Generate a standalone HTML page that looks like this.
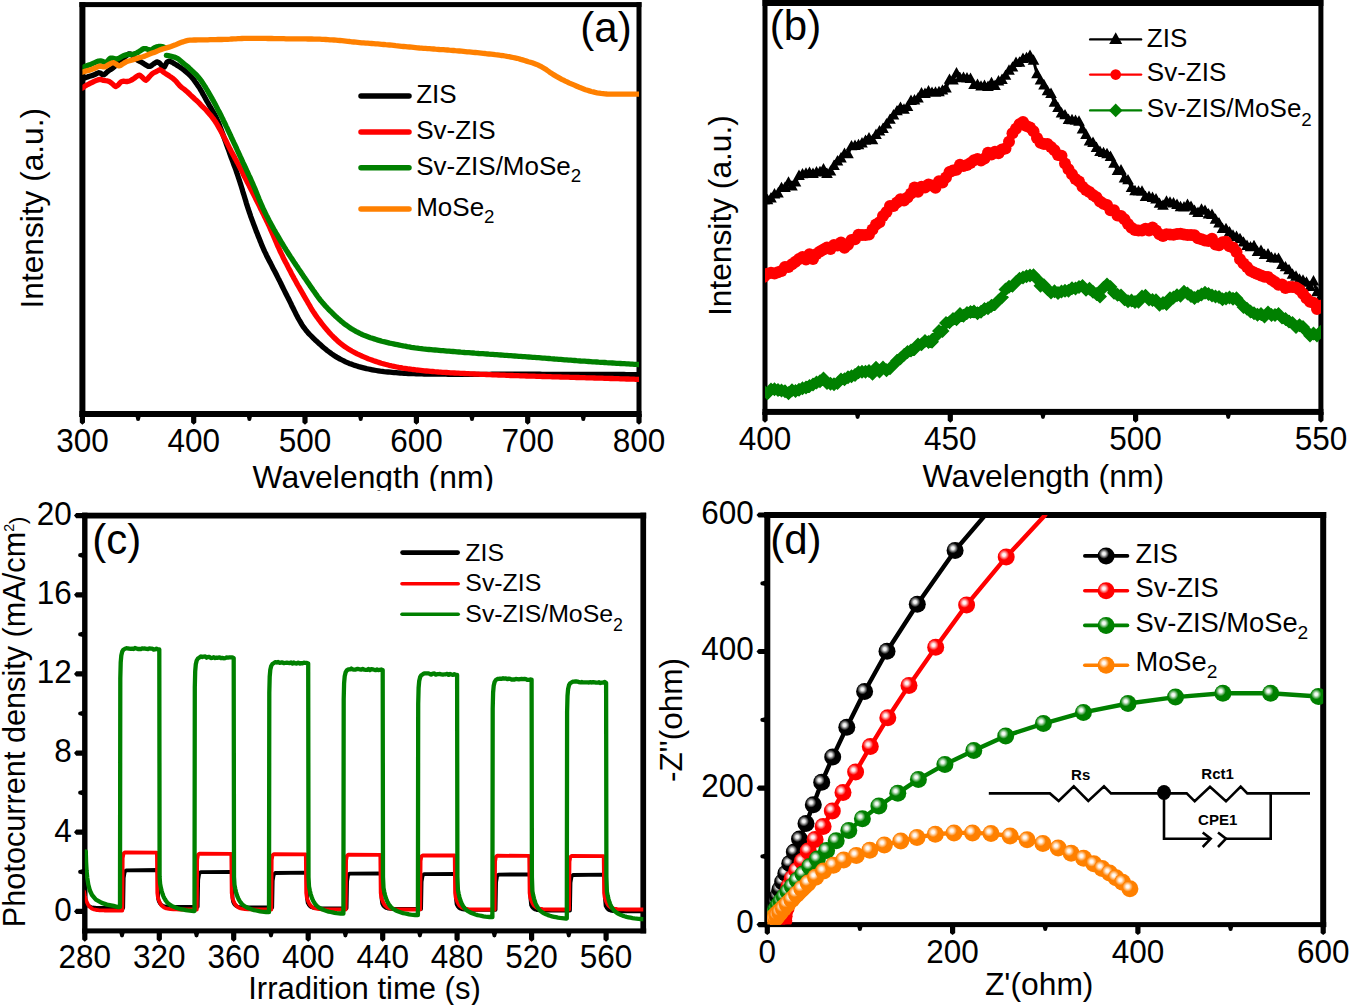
<!DOCTYPE html>
<html><head><meta charset="utf-8"><style>
html,body{margin:0;padding:0;background:#fff;overflow:hidden;}
svg{display:block;}
text{font-family:"Liberation Sans",sans-serif;fill:#000;}
</style></head><body>
<svg width="1350" height="1005" viewBox="0 0 1350 1005">
<defs><clipPath id="ca"><rect x="82.4" y="4.6" width="556.6" height="409.4"/></clipPath><clipPath id="cb"><rect x="765" y="3" width="555.9" height="408.9"/></clipPath><clipPath id="cc"><rect x="84.8" y="515.6" width="558.5" height="415.3"/></clipPath><clipPath id="cd"><rect x="767.3" y="515" width="555.9" height="409.6"/></clipPath><clipPath id="topclip"><rect x="0" y="0" width="1350" height="491"/></clipPath><clipPath id="topclipb"><rect x="0" y="0" width="1350" height="492"/></clipPath><radialGradient id="hk" cx="0.37" cy="0.37" r="0.3"><stop offset="0" stop-color="#fff" stop-opacity="1"/><stop offset="0.3" stop-color="#fff" stop-opacity="0.92"/><stop offset="1" stop-color="#fff" stop-opacity="0"/></radialGradient><radialGradient id="hr" cx="0.37" cy="0.37" r="0.3"><stop offset="0" stop-color="#fff" stop-opacity="1"/><stop offset="0.3" stop-color="#fff" stop-opacity="0.92"/><stop offset="1" stop-color="#fff" stop-opacity="0"/></radialGradient><radialGradient id="hg" cx="0.37" cy="0.37" r="0.3"><stop offset="0" stop-color="#fff" stop-opacity="1"/><stop offset="0.3" stop-color="#fff" stop-opacity="0.92"/><stop offset="1" stop-color="#fff" stop-opacity="0"/></radialGradient><radialGradient id="ho" cx="0.37" cy="0.37" r="0.3"><stop offset="0" stop-color="#fff" stop-opacity="1"/><stop offset="0.3" stop-color="#fff" stop-opacity="0.92"/><stop offset="1" stop-color="#fff" stop-opacity="0"/></radialGradient></defs>
<rect x="79.4" y="2.1" width="562.1" height="5"/>
<rect x="79.4" y="411" width="562.1" height="6"/>
<rect x="79.4" y="2.1" width="6" height="414.9"/>
<rect x="636.5" y="2.1" width="5" height="414.9"/>
<rect x="762.5" y="0" width="560.9" height="6"/>
<rect x="762.5" y="408.9" width="560.9" height="6"/>
<rect x="762.5" y="0" width="5" height="414.9"/>
<rect x="1318.4" y="0" width="5" height="414.9"/>
<rect x="82.1" y="512.7" width="564.1" height="5.8"/>
<rect x="82.1" y="928.4" width="564.1" height="5"/>
<rect x="82.1" y="512.7" width="5.4" height="420.7"/>
<rect x="640.4" y="512.7" width="5.7" height="420.7"/>
<rect x="764.3" y="512" width="561.9" height="6"/>
<rect x="764.3" y="922.1" width="561.9" height="5"/>
<rect x="764.3" y="512" width="6" height="415.1"/>
<rect x="1320.2" y="512" width="6" height="415.1"/>
<g clip-path="url(#ca)">
<polyline points="80,79 82,78.6 83.9,78.1 85.8,77.6 87.7,76.9 89.6,76.3 91.5,75.7 93.4,75.1 95.3,74.3 97,73.4 98.9,72.6 100.7,73.3 102.2,74.6 104.1,74.6 105.7,73.4 107.1,72 108.6,70.7 110.3,69.6 112,68.6 113.6,67.4 115.1,66 116.5,64.6 117.9,63.1 119.3,61.8 120.9,60.5 122.4,59.2 123.8,57.8 125.4,56.5 126.9,55.2 128.5,54 130.4,53.9 132,55.1 133.4,56.4 134.9,57.8 136.4,59.2 137.9,60.4 139.7,61.3 141.5,62.2 143.2,63.3 144.8,64.4 146.6,65.4 148.3,66.3 150.3,66.3 151.9,65.2 153.5,64 155.2,62.8 156.9,61.9 158.8,62.5 160.3,63.8 161.6,65.4 162.6,67 164.3,67.1 165.3,65.4 166.2,63.6 167.2,61.9 169,61.2 170.9,61.8 172.8,62.6 174.4,63.7 176.2,64.7 177.8,65.8 179.5,66.9 181.2,68 182.8,69.2 184.4,70.4 185.9,71.7 187.4,73 188.9,74.3 190.3,75.7 191.7,77.2 193,78.7 194.2,80.3 195.3,82 196.5,83.6 197.6,85.2 198.8,86.9 199.9,88.6 200.9,90.3 201.9,92 202.8,93.8 203.8,95.5 204.8,97.3 205.7,99 206.7,100.8 207.7,102.5 208.7,104.2 209.7,106 210.7,107.7 211.7,109.4 212.7,111.1 213.7,112.8 214.7,114.6 215.6,116.3 216.5,118.1 217.3,120 218.1,121.8 218.9,123.6 219.6,125.5 220.3,127.4 221,129.2 221.7,131.1 222.4,133 223.1,134.9 223.7,136.8 224.4,138.6 225.1,140.5 225.8,142.4 226.4,144.3 227.1,146.2 227.8,148.1 228.5,149.9 229.2,151.8 229.8,153.7 230.5,155.6 231.2,157.5 231.9,159.3 232.6,161.2 233.3,163.1 234,165 234.7,166.8 235.4,168.7 236.1,170.6 236.7,172.5 237.4,174.4 238,176.3 238.6,178.2 239.3,180.1 239.9,182 240.5,183.9 241.1,185.8 241.7,187.7 242.3,189.6 242.8,191.5 243.4,193.4 244,195.3 244.6,197.3 245.2,199.2 245.8,201.1 246.3,203 246.9,204.9 247.5,206.8 248.1,208.7 248.8,210.6 249.4,212.5 250.1,214.4 250.7,216.3 251.4,218.2 252.1,220.1 252.8,221.9 253.5,223.8 254.2,225.7 254.9,227.5 255.6,229.4 256.3,231.3 257.1,233.1 257.8,235 258.5,236.9 259.3,238.7 260,240.6 260.8,242.4 261.5,244.3 262.3,246.1 263.1,248 263.9,249.8 264.7,251.6 265.6,253.4 266.4,255.2 267.3,257 268.2,258.8 269.1,260.6 270.1,262.3 271,264.1 271.9,265.9 272.8,267.7 273.7,269.4 274.7,271.2 275.6,273 276.5,274.8 277.4,276.6 278.3,278.4 279.2,280.1 280.1,281.9 281,283.7 281.8,285.5 282.7,287.3 283.6,289.1 284.5,290.9 285.4,292.7 286.3,294.5 287.2,296.3 288.1,298 289,299.8 289.9,301.6 290.8,303.4 291.6,305.2 292.5,307 293.4,308.8 294.3,310.6 295.2,312.4 296.1,314.2 297,315.9 297.9,317.7 298.9,319.5 299.9,321.2 300.9,322.9 301.9,324.6 303,326.3 304.2,327.9 305.4,329.5 306.6,331.1 307.9,332.6 309.3,334.1 310.7,335.5 312.1,336.9 313.5,338.3 314.9,339.7 316.4,341.1 317.9,342.4 319.3,343.8 320.8,345.1 322.3,346.4 323.8,347.7 325.4,349 326.9,350.3 328.5,351.5 330.1,352.7 331.7,353.9 333.4,355 335,356.1 336.7,357.1 338.5,358.1 340.2,359.1 342,360 343.8,360.9 345.6,361.8 347.4,362.6 349.2,363.4 351.1,364.1 353,364.8 354.8,365.4 356.8,366 358.7,366.6 360.6,367.1 362.5,367.6 364.5,368.1 366.4,368.6 368.4,369 370.3,369.4 372.3,369.8 374.2,370.2 376.2,370.5 378.2,370.8 380.2,371.1 382.2,371.3 384.1,371.6 386.1,371.8 388.1,372 390.1,372.2 392.1,372.4 394.1,372.6 396.1,372.7 398.1,372.9 400.1,373 402.1,373.1 404.1,373.3 406.1,373.4 408.1,373.5 410.1,373.5 412.1,373.6 414.1,373.7 416.1,373.8 418.1,373.8 420.1,373.9 422.1,373.9 424.1,374 426.1,374 428.1,374 430,374.1 432,374.1 434,374.1 436,374.2 438,374.2 440,374.2 442,374.2 444,374.2 446,374.2 448,374.3 450,374.3 452,374.3 454,374.3 456,374.3 458,374.3 460,374.3 462,374.3 464,374.3 466,374.3 468,374.3 470,374.3 472,374.3 474,374.3 476,374.3 478,374.3 480,374.3 482,374.3 484,374.3 486,374.3 488,374.3 490,374.3 492,374.2 494,374.2 496,374.2 498,374.2 500,374.2 502,374.2 504,374.2 506,374.2 508,374.2 510,374.2 512,374.2 514,374.2 516,374.2 518,374.2 520,374.2 522,374.2 524,374.2 526,374.2 528,374.2 530,374.2 532,374.2 534,374.2 536,374.2 538,374.2 540,374.2 542,374.3 544,374.3 546,374.3 548,374.3 550,374.3 552,374.3 554,374.3 556,374.3 558,374.3 560,374.3 562,374.3 564,374.3 566,374.3 568,374.4 570,374.4 572,374.4 574,374.4 576,374.4 578,374.4 580,374.4 582,374.4 584,374.4 586,374.4 588,374.4 590,374.4 592,374.4 594,374.4 596,374.5 598,374.5 600,374.5 602,374.5 604,374.5 606,374.5 608,374.5 610,374.5 612,374.5 614,374.5 616,374.5 618,374.5 620,374.5 622,374.5 624,374.5 626,374.6 628,374.6 630,374.6 631.9,374.6 633.8,374.6 635.5,374.6 636.9,374.6 638,374.6 638,374.6" fill="none" stroke="#000" stroke-width="5.3" stroke-linejoin="round" stroke-linecap="round" />
<polyline points="80,88.8 81.9,88.3 83.6,87.2 85.2,86 86.9,85 88.7,84.1 90.5,83.2 92.3,82.3 94.1,81.4 95.9,80.6 97.8,79.9 99.7,79.4 101.7,79.7 103.6,80.4 105.6,80.7 107.5,80.9 109.4,81.6 111,82.7 112.6,84 114,85.4 115.6,86.5 117.4,85.7 118.8,84.3 120.1,82.8 121.6,81.5 123.6,81.2 125.6,81.5 127.6,81.5 129.5,81 131.3,80.1 133,79.1 134.7,78 136.2,76.7 137.9,75.6 139.7,75.2 141.3,76.4 142.8,77.8 144.2,79.2 145.8,80.2 147.4,79.1 148.7,77.5 150,76 151.4,74.6 152.9,73.3 154.7,72.3 156.5,71.5 158.2,70.5 160,69.7 161.8,70.7 163.3,72 164.9,73.1 166.6,74.2 168.3,75.3 169.9,76.4 171.6,77.5 173.2,78.7 174.7,80 176.1,81.4 177.4,83 178.7,84.5 180,86 181.5,87.3 183.1,88.5 184.7,89.7 186.2,91 187.7,92.3 189.2,93.7 190.6,95.1 192.1,96.5 193.5,97.8 195,99.2 196.5,100.5 198,101.9 199.4,103.3 200.7,104.8 202.1,106.2 203.6,107.6 205,109 206.4,110.4 207.7,111.9 209,113.4 210.3,114.9 211.6,116.5 212.8,118.1 214,119.7 215.1,121.3 216.2,123 217.2,124.7 218.2,126.4 219.2,128.2 220.2,129.9 221.2,131.7 222.1,133.4 223,135.2 224,137 224.9,138.7 225.8,140.5 226.7,142.3 227.6,144.1 228.5,145.9 229.4,147.7 230.3,149.4 231.2,151.2 232.2,153 233.1,154.7 234.1,156.5 235,158.3 236,160 236.9,161.8 237.9,163.5 238.8,165.3 239.7,167.1 240.7,168.9 241.6,170.6 242.5,172.4 243.3,174.2 244.2,176 245.1,177.8 246,179.6 246.9,181.4 247.8,183.1 248.8,184.9 249.7,186.7 250.6,188.5 251.5,190.3 252.4,192 253.3,193.8 254.2,195.6 255.1,197.4 256,199.2 256.9,201 257.8,202.8 258.7,204.6 259.6,206.4 260.4,208.2 261.3,209.9 262.2,211.7 263.1,213.5 264,215.3 264.8,217.1 265.7,218.9 266.6,220.7 267.5,222.5 268.3,224.3 269.2,226.1 270,228 270.8,229.8 271.6,231.6 272.4,233.4 273.2,235.3 274,237.1 274.8,239 275.6,240.8 276.4,242.6 277.1,244.5 277.9,246.3 278.8,248.1 279.6,250 280.4,251.8 281.3,253.6 282.2,255.4 283,257.2 283.9,259 284.8,260.7 285.7,262.5 286.7,264.3 287.6,266.1 288.5,267.9 289.4,269.6 290.4,271.4 291.3,273.2 292.2,274.9 293.2,276.7 294.1,278.5 295.1,280.2 296.1,282 297,283.7 298,285.5 299,287.2 300,288.9 301,290.7 302,292.4 303,294.1 304,295.9 305,297.6 306,299.3 307,301 308,302.8 309,304.5 310,306.2 311,308 312,309.7 313.1,311.4 314.2,313 315.3,314.7 316.4,316.4 317.6,318 318.8,319.6 320,321.2 321.2,322.8 322.4,324.4 323.6,325.9 324.9,327.5 326.2,329 327.5,330.6 328.8,332.1 330.1,333.5 331.5,335 332.9,336.4 334.3,337.8 335.8,339.2 337.2,340.6 338.7,341.9 340.3,343.2 341.8,344.4 343.4,345.6 345,346.8 346.7,347.9 348.4,349 350.1,350 351.8,351 353.6,352 355.3,352.9 357.1,353.8 358.9,354.6 360.7,355.5 362.5,356.3 364.4,357.1 366.2,357.9 368.1,358.7 369.9,359.4 371.8,360.1 373.7,360.8 375.6,361.4 377.5,362 379.4,362.6 381.3,363.2 383.2,363.7 385.1,364.3 387.1,364.8 389,365.3 391,365.7 392.9,366.2 394.9,366.6 396.8,367 398.8,367.4 400.8,367.7 402.7,368.1 404.7,368.4 406.7,368.7 408.7,369 410.6,369.2 412.6,369.5 414.6,369.7 416.6,370 418.6,370.2 420.6,370.4 422.6,370.6 424.5,370.8 426.5,371 428.5,371.2 430.5,371.4 432.5,371.5 434.5,371.7 436.5,371.8 438.5,372 440.5,372.1 442.5,372.3 444.5,372.4 446.5,372.5 448.5,372.6 450.5,372.8 452.5,372.9 454.5,373 456.5,373.1 458.5,373.2 460.5,373.3 462.5,373.4 464.5,373.5 466.4,373.6 468.4,373.7 470.4,373.8 472.4,373.9 474.4,374 476.4,374.1 478.4,374.2 480.4,374.3 482.4,374.4 484.4,374.4 486.4,374.5 488.4,374.6 490.4,374.7 492.4,374.8 494.4,374.9 496.4,374.9 498.4,375 500.4,375.1 502.4,375.2 504.4,375.2 506.4,375.3 508.4,375.4 510.4,375.5 512.4,375.5 514.4,375.6 516.4,375.7 518.4,375.7 520.4,375.8 522.4,375.9 524.4,375.9 526.4,376 528.4,376.1 530.4,376.1 532.4,376.2 534.4,376.2 536.4,376.3 538.4,376.4 540.4,376.4 542.4,376.5 544.4,376.5 546.4,376.6 548.4,376.7 550.4,376.7 552.4,376.8 554.4,376.8 556.4,376.9 558.4,376.9 560.4,377 562.4,377.1 564.4,377.1 566.4,377.2 568.4,377.2 570.4,377.3 572.4,377.3 574.4,377.4 576.4,377.5 578.4,377.5 580.4,377.6 582.4,377.6 584.4,377.7 586.4,377.8 588.4,377.8 590.4,377.9 592.4,377.9 594.4,378 596.4,378.1 598.4,378.1 600.4,378.2 602.4,378.2 604.4,378.3 606.4,378.4 608.4,378.4 610.4,378.5 612.4,378.5 614.4,378.6 616.4,378.7 618.4,378.7 620.4,378.8 622.4,378.9 624.4,378.9 626.4,379 628.3,379 630.3,379.1 632.2,379.2 634,379.2 635.7,379.3 637.1,379.3 638.2,379.3 638.2,379.3" fill="none" stroke="#ff0000" stroke-width="5.3" stroke-linejoin="round" stroke-linecap="round" />
<polyline points="80,68.5 81.9,67.9 83.7,67.1 85.5,66.2 87.4,65.5 89.3,64.9 91.2,64.2 93,63.4 94.8,62.6 96.7,61.8 98.6,61.1 100.5,60.8 102.5,61.3 104.2,62.2 106,62.2 107.6,61.1 108.9,59.5 110.3,58.2 112.3,58.1 114.2,58.6 116.1,59.1 118.1,58.7 119.8,57.7 121.5,56.7 123.3,55.7 125.2,55.1 127.1,54.7 129.1,54.5 131.1,54.3 133.1,54.1 135.1,53.7 136.9,52.9 138.6,51.9 140.3,50.8 141.9,49.6 143.6,48.6 145.6,48.6 147.5,49.3 149.4,49.9 151.3,49.9 153,48.8 154.6,47.7 156.5,46.9 158.4,46.5 160.4,46.5 162.4,46.7 163.8,47 163.8,47" fill="none" stroke="#008000" stroke-width="5.3" stroke-linejoin="round" stroke-linecap="round" />
<polyline points="166.4,55.4 168.4,55.7 170.3,56.1 172.3,56.6 174.2,57.1 176.1,57.8 177.8,58.7 179.5,59.9 181,61.2 182.5,62.5 184,63.8 185.6,65 187.2,66.3 188.7,67.6 190.1,69 191.6,70.4 193,71.7 194.5,73.1 196,74.5 197.3,75.9 198.6,77.4 199.8,79 201.1,80.6 202.2,82.2 203.3,83.9 204.4,85.6 205.5,87.3 206.5,89 207.5,90.7 208.5,92.4 209.5,94.2 210.5,95.9 211.5,97.6 212.5,99.4 213.5,101.1 214.4,102.9 215.4,104.6 216.3,106.4 217.2,108.2 218.1,110 219.1,111.7 220,113.5 220.9,115.3 221.8,117.1 222.7,118.9 223.5,120.7 224.4,122.5 225.3,124.3 226.1,126.1 227,127.9 227.8,129.7 228.7,131.5 229.5,133.3 230.4,135.1 231.2,137 232,138.8 232.9,140.6 233.7,142.4 234.6,144.2 235.4,146 236.3,147.8 237.1,149.7 237.9,151.5 238.8,153.3 239.6,155.1 240.4,156.9 241.3,158.7 242.1,160.6 242.9,162.4 243.8,164.2 244.6,166 245.5,167.8 246.3,169.6 247.1,171.5 248,173.3 248.8,175.1 249.7,176.9 250.5,178.7 251.3,180.5 252.1,182.4 252.9,184.2 253.7,186 254.5,187.9 255.3,189.7 256,191.6 256.8,193.4 257.5,195.3 258.3,197.1 259,199 259.8,200.8 260.6,202.7 261.4,204.5 262.2,206.3 263,208.2 263.8,210 264.7,211.8 265.6,213.6 266.5,215.4 267.4,217.1 268.3,218.9 269.2,220.7 270.2,222.5 271.1,224.2 272.1,226 273,227.7 274,229.5 275,231.2 276,233 277,234.7 278,236.4 279,238.2 280,239.9 281,241.6 282,243.3 283.1,245 284.1,246.7 285.2,248.4 286.2,250.1 287.3,251.8 288.4,253.5 289.5,255.2 290.6,256.9 291.7,258.5 292.8,260.2 293.9,261.9 295,263.5 296.1,265.2 297.2,266.8 298.3,268.5 299.5,270.2 300.6,271.8 301.7,273.5 302.8,275.1 303.9,276.8 305.1,278.4 306.2,280.1 307.3,281.7 308.5,283.4 309.6,285 310.7,286.7 311.9,288.3 313,290 314.2,291.6 315.3,293.2 316.5,294.9 317.6,296.5 318.8,298.1 320,299.7 321.3,301.2 322.6,302.8 323.9,304.3 325.2,305.8 326.6,307.2 328,308.7 329.3,310.1 330.8,311.5 332.2,312.9 333.6,314.3 335,315.7 336.5,317.1 338,318.4 339.5,319.8 341,321.1 342.5,322.3 344.1,323.6 345.7,324.8 347.3,325.9 349,327.1 350.6,328.2 352.3,329.3 354,330.3 355.7,331.3 357.5,332.2 359.3,333.1 361.1,334 362.9,334.8 364.7,335.6 366.6,336.3 368.5,337 370.4,337.7 372.3,338.3 374.2,338.9 376.1,339.5 378,340.1 379.9,340.6 381.8,341.2 383.8,341.7 385.7,342.1 387.7,342.6 389.6,343.1 391.6,343.5 393.5,343.9 395.5,344.3 397.4,344.7 399.4,345.1 401.3,345.5 403.3,345.9 405.3,346.2 407.2,346.6 409.2,346.9 411.2,347.3 413.2,347.6 415.1,347.9 417.1,348.1 419.1,348.4 421.1,348.6 423.1,348.9 425.1,349.1 427.1,349.3 429,349.5 431,349.7 433,349.9 435,350 437,350.2 439,350.4 441,350.6 443,350.7 445,350.9 447,351.1 449,351.2 451,351.4 453,351.5 454.9,351.7 456.9,351.9 458.9,352 460.9,352.2 462.9,352.3 464.9,352.5 466.9,352.6 468.9,352.7 470.9,352.9 472.9,353 474.9,353.2 476.9,353.3 478.9,353.5 480.9,353.6 482.9,353.7 484.9,353.9 486.9,354 488.9,354.2 490.9,354.3 492.9,354.4 494.8,354.6 496.8,354.7 498.8,354.9 500.8,355 502.8,355.1 504.8,355.3 506.8,355.4 508.8,355.6 510.8,355.7 512.8,355.9 514.8,356 516.8,356.1 518.8,356.3 520.8,356.4 522.8,356.6 524.8,356.7 526.8,356.9 528.8,357 530.8,357.1 532.7,357.3 534.7,357.4 536.7,357.6 538.7,357.7 540.7,357.9 542.7,358.1 544.7,358.2 546.7,358.4 548.7,358.5 550.7,358.7 552.7,358.8 554.7,359 556.7,359.1 558.7,359.3 560.7,359.4 562.7,359.6 564.7,359.8 566.6,359.9 568.6,360.1 570.6,360.2 572.6,360.4 574.6,360.5 576.6,360.7 578.6,360.8 580.6,361 582.6,361.1 584.6,361.2 586.6,361.4 588.6,361.5 590.6,361.6 592.6,361.8 594.6,361.9 596.6,362 598.6,362.2 600.6,362.3 602.6,362.4 604.6,362.5 606.6,362.7 608.5,362.8 610.5,362.9 612.5,363 614.5,363.1 616.5,363.3 618.5,363.4 620.5,363.5 622.5,363.6 624.5,363.7 626.5,363.8 628.5,363.9 630.5,364.1 632.4,364.2 634.2,364.3 635.8,364.4 637.2,364.4 638.3,364.5 638.3,364.5" fill="none" stroke="#008000" stroke-width="5.3" stroke-linejoin="round" stroke-linecap="round" />
<polyline points="80,72.8 81.9,72.3 83.8,71.7 85.7,71.1 87.7,70.6 89.6,70.1 91.5,69.5 93.4,68.8 95.3,68 97.1,67.2 98.9,66.4 100.9,66.2 102.8,66.8 104.8,66.8 106.6,65.9 108.3,64.9 110.1,63.9 111.8,63 113.8,62.7 115.5,63.7 117.1,64.9 118.8,65.9 120.7,65.4 122.3,64.2 124,63.1 125.7,62.1 127.6,61.3 129.5,60.8 131.4,60.2 133.3,59.6 135.2,59 137.1,58.4 139,57.8 140.9,57.2 142.9,56.7 144.8,56.1 146.6,55.3 148.4,54.5 150.3,53.8 152.2,53.1 154.1,52.4 155.9,51.7 157.8,50.9 159.6,50.1 161.5,49.4 163.4,48.8 165.3,48.2 167.2,47.6 169.1,47.1 171,46.5 172.9,45.8 174.8,45.1 176.6,44.3 178.5,43.5 180.3,42.8 182.2,42.1 184.1,41.5 186,40.9 188,40.4 189.9,40.2 191.9,40.1 193.9,40 195.9,40 197.9,39.9 199.9,39.9 201.9,39.9 203.9,39.8 205.9,39.8 207.9,39.8 209.9,39.7 211.9,39.7 213.9,39.6 215.9,39.6 217.9,39.5 219.9,39.5 221.9,39.5 223.9,39.4 225.9,39.3 227.9,39.3 229.9,39.2 231.9,39 233.9,38.9 235.9,38.8 237.9,38.7 239.9,38.6 241.9,38.5 243.9,38.4 245.9,38.4 247.9,38.3 249.9,38.3 251.9,38.3 253.9,38.3 255.9,38.3 257.9,38.3 259.9,38.3 261.9,38.3 263.9,38.4 265.9,38.4 267.9,38.5 269.9,38.5 271.9,38.5 273.9,38.6 275.9,38.6 277.9,38.7 279.9,38.7 281.9,38.7 283.9,38.7 285.9,38.8 287.9,38.8 289.9,38.8 291.9,38.8 293.9,38.8 295.9,38.8 297.9,38.9 299.9,38.9 301.9,38.9 303.9,38.9 305.9,38.9 307.9,39 309.9,39 311.9,39 313.9,39.1 315.9,39.1 317.9,39.2 319.9,39.2 321.9,39.3 323.9,39.4 325.9,39.5 327.9,39.6 329.9,39.8 331.9,39.9 333.9,40 335.9,40.2 337.9,40.4 339.8,40.5 341.8,40.7 343.8,40.9 345.8,41.1 347.8,41.3 349.8,41.5 351.8,41.8 353.8,42 355.8,42.2 357.7,42.4 359.7,42.6 361.7,42.8 363.7,42.9 365.7,43.1 367.7,43.2 369.7,43.4 371.7,43.5 373.7,43.6 375.7,43.8 377.7,43.9 379.7,44.1 381.7,44.3 383.7,44.5 385.7,44.7 387.6,44.8 389.6,45 391.6,45.2 393.6,45.4 395.6,45.7 397.6,45.9 399.6,46.1 401.6,46.3 403.6,46.5 405.6,46.7 407.5,46.9 409.5,47 411.5,47.2 413.5,47.4 415.5,47.6 417.5,47.8 419.5,48 421.5,48.1 423.5,48.3 425.5,48.4 427.5,48.6 429.5,48.7 431.5,48.9 433.5,49 435.4,49.2 437.4,49.3 439.4,49.5 441.4,49.6 443.4,49.7 445.4,49.9 447.4,50 449.4,50.2 451.4,50.3 453.4,50.5 455.4,50.7 457.4,50.8 459.4,51 461.4,51.2 463.4,51.4 465.4,51.6 467.3,51.8 469.3,51.9 471.3,52.1 473.3,52.3 475.3,52.5 477.3,52.7 479.3,52.9 481.3,53.1 483.3,53.3 485.3,53.5 487.2,53.8 489.2,54 491.2,54.2 493.2,54.4 495.2,54.7 497.2,54.9 499.2,55.2 501.1,55.5 503.1,55.7 505.1,56 507.1,56.4 509,56.7 511,57.1 513,57.5 514.9,57.9 516.9,58.3 518.8,58.8 520.7,59.4 522.6,59.9 524.6,60.5 526.5,61.1 528.4,61.7 530.3,62.2 532.2,62.8 534.1,63.5 536,64.2 537.8,64.9 539.6,65.8 541.4,66.7 543.1,67.7 544.8,68.7 546.5,69.8 548.1,71 549.7,72.2 551.4,73.3 553,74.4 554.7,75.4 556.4,76.4 558.2,77.4 560,78.4 561.7,79.3 563.5,80.2 565.3,81.1 567.1,81.9 568.9,82.8 570.7,83.6 572.6,84.4 574.4,85.2 576.2,86 578.1,86.8 579.9,87.6 581.8,88.3 583.6,89 585.5,89.7 587.4,90.3 589.3,90.9 591.3,91.5 593.2,91.9 595.1,92.4 597.1,92.8 599.1,93.1 601,93.4 603,93.6 605,93.8 607,94 609,94.1 611,94.1 613,94.2 615,94.2 617,94.2 619,94.2 621,94.2 623,94.2 625,94.2 627,94.2 629,94.2 631,94.2 632.9,94.2 634.8,94.2 636.5,94.2 637.9,94.2 638.9,94.2 638.9,94.2" fill="none" stroke="#ff8000" stroke-width="5.3" stroke-linejoin="round" stroke-linecap="round" />
</g>
<path d="M79.8,414L85,414L85,422.5L82.4,424.7L79.8,422.5ZM191.1,414L196.3,414L196.3,422.5L193.7,424.7L191.1,422.5ZM302.4,414L307.6,414L307.6,422.5L305,424.7L302.4,422.5ZM413.8,414L419,414L419,422.5L416.4,424.7L413.8,422.5ZM525.1,414L530.3,414L530.3,422.5L527.7,424.7L525.1,422.5ZM636.4,414L641.6,414L641.6,422.5L639,424.7L636.4,422.5Z"/>
<path d="M134.9,414L141.3,414L139.7,420.4L138.1,421L136.5,420.4ZM246.2,414L252.6,414L251,420.4L249.4,421L247.8,420.4ZM357.5,414L363.9,414L362.3,420.4L360.7,421L359.1,420.4ZM468.8,414L475.2,414L473.6,420.4L472,421L470.4,420.4ZM580.1,414L586.5,414L584.9,420.4L583.3,421L581.7,420.4Z"/>
<text transform="translate(82.4 451.8) scale(1 1.07)" font-size="31.5" text-anchor="middle" >300</text>
<text transform="translate(193.7 451.8) scale(1 1.07)" font-size="31.5" text-anchor="middle" >400</text>
<text transform="translate(305 451.8) scale(1 1.07)" font-size="31.5" text-anchor="middle" >500</text>
<text transform="translate(416.4 451.8) scale(1 1.07)" font-size="31.5" text-anchor="middle" >600</text>
<text transform="translate(527.7 451.8) scale(1 1.07)" font-size="31.5" text-anchor="middle" >700</text>
<text transform="translate(639 451.8) scale(1 1.07)" font-size="31.5" text-anchor="middle" >800</text>
<g clip-path="url(#topclip)">
<text transform="translate(373.3 488.3)" font-size="31.5" text-anchor="middle" textLength="241.5" lengthAdjust="spacingAndGlyphs" >Wavelength (nm)</text>
</g>
<text transform="translate(42.8 208.2) rotate(-90)" font-size="31.5" text-anchor="middle" textLength="200.5" lengthAdjust="spacingAndGlyphs" >Intensity (a.u.)</text>
<text x="606" y="42.2" font-size="42" text-anchor="middle" >(a)</text>
<line x1="361" y1="96" x2="409" y2="96" stroke="#000" stroke-width="5.5" stroke-linecap="round"/>
<line x1="361" y1="132" x2="409" y2="132" stroke="#ff0000" stroke-width="5.5" stroke-linecap="round"/>
<line x1="361" y1="167.7" x2="409" y2="167.7" stroke="#008000" stroke-width="5.5" stroke-linecap="round"/>
<line x1="361" y1="209" x2="409" y2="209" stroke="#ff8000" stroke-width="5.5" stroke-linecap="round"/>
<text transform="translate(416.2 103) scale(1.04 1)" font-size="25" text-anchor="start" >ZIS</text>
<text transform="translate(416.2 139) scale(1.04 1)" font-size="25" text-anchor="start" >Sv-ZIS</text>
<text transform="translate(416.2 175.2) scale(1.04 1)" font-size="25" text-anchor="start" >Sv-ZIS/MoSe<tspan font-size="18" dy="7">2</tspan></text>
<text transform="translate(416.2 216.3) scale(1.04 1)" font-size="25" text-anchor="start" >MoSe<tspan font-size="18" dy="7">2</tspan></text>
<g clip-path="url(#cb)">
<polyline points="764,200.2 767.5,199.8 771,198 774.5,194 778,193.2 781.5,187.7 785,187.6 788.5,182.4 792,186.1 795.5,182.2 799,175.7 802.5,174 806,173.2 809.5,172.4 813,173.6 816.5,172 820,171.7 823.5,169.1 827,173.6 830.5,171.2 834,165.6 837.5,161.1 841,158.2 844.5,153.5 848,153.8 851.5,145.9 855,145.6 858.5,144.8 862,143.2 865.5,140.5 869,138.2 872.5,139.9 876,134.6 879.5,131.1 883,128.6 886.5,124.1 890,119.5 893.5,115.2 897,110.9 900.5,107.5 904,109.3 907.5,106.5 911,100.6 914.5,100.2 918,98.3 921.5,93.1 925,93.6 928.5,91.1 932,92.4 935.5,92.4 939,91.8 942.5,90.3 946,88.1 949.5,79.4 953,80.1 956.5,73 960,77.9 963.5,77.4 967,78.2 970.5,78.5 974,84.7 977.5,84.4 981,86.3 984.5,85.6 988,86.7 991.5,82.9 995,85.7 998.5,81 1002,79.5 1005.5,75.4 1009,70.3 1012.5,67.3 1016,62.5 1019.5,62.3 1023,58.5 1026.5,57.8 1030,55.4 1033.5,60.4 1037,73.8 1040.5,80.2 1044,85.2 1047.5,91 1051,93.7 1054.5,102.3 1058,107.7 1061.5,113.1 1065,114.9 1068.5,119.6 1072,119.8 1075.5,120.4 1079,121.3 1082.5,129 1086,134.5 1089.5,141.1 1093,142.7 1096.5,147.6 1100,151.5 1103.5,152.7 1107,153.8 1110.5,156.7 1114,163.4 1117.5,170.6 1121,170.1 1124.5,178.1 1128,180 1131.5,187.7 1135,190.8 1138.5,191.2 1142,191.4 1145.5,196.7 1149,196.4 1152.5,197.7 1156,199.2 1159.5,203.4 1163,205.4 1166.5,201.3 1170,202.4 1173.5,203.1 1177,204.6 1180.5,206.9 1184,207 1187.5,204.5 1191,206.4 1194.5,210.5 1198,212.5 1201.5,209.4 1205,210.4 1208.5,214.1 1212,214.5 1215.5,219.3 1219,223 1222.5,228.6 1226,228.7 1229.5,232.1 1233,235.4 1236.5,236.5 1240,238.8 1243.5,242.2 1247,245.5 1250.5,246.9 1254,245.8 1257.5,251.5 1261,250.5 1264.5,254.6 1268,253.9 1271.5,257.5 1275,258.2 1278.5,258.4 1282,264.5 1285.5,267 1289,269.9 1292.5,274.3 1296,276.3 1299.5,279.4 1303,280.4 1306.5,282.4 1310,286.7 1313.5,281.2 1317,291.8 1320.5,297 1324,301.3" fill="none" stroke="#000" stroke-width="3" stroke-linejoin="round" stroke-linecap="round" />
<path fill="#000" d="M758.2,204.6L769.8,204.6L764,194.1ZM761.7,204.2L773.3,204.2L767.5,193.8ZM765.2,202.4L776.8,202.4L771,191.9ZM768.7,198.4L780.3,198.4L774.5,188ZM772.2,197.6L783.8,197.6L778,187.2ZM775.7,192.1L787.3,192.1L781.5,181.7ZM779.2,192L790.8,192L785,181.5ZM782.7,186.8L794.3,186.8L788.5,176.3ZM786.2,190.5L797.8,190.5L792,180.1ZM789.7,186.6L801.3,186.6L795.5,176.1ZM793.2,180L804.8,180L799,169.6ZM796.7,178.3L808.3,178.3L802.5,167.9ZM800.2,177.6L811.8,177.6L806,167.2ZM803.7,176.8L815.3,176.8L809.5,166.4ZM807.2,178L818.8,178L813,167.6ZM810.7,176.4L822.3,176.4L816.5,166ZM814.2,176.1L825.8,176.1L820,165.7ZM817.7,173.5L829.3,173.5L823.5,163.1ZM821.2,178L832.8,178L827,167.5ZM824.7,175.6L836.3,175.6L830.5,165.2ZM828.2,170L839.8,170L834,159.6ZM831.7,165.5L843.3,165.5L837.5,155ZM835.2,162.6L846.8,162.6L841,152.1ZM838.7,157.9L850.3,157.9L844.5,147.5ZM842.2,158.2L853.8,158.2L848,147.7ZM845.7,150.3L857.3,150.3L851.5,139.9ZM849.2,150L860.8,150L855,139.6ZM852.7,149.2L864.3,149.2L858.5,138.7ZM856.2,147.5L867.8,147.5L862,137.1ZM859.7,144.8L871.3,144.8L865.5,134.4ZM863.2,142.5L874.8,142.5L869,132.1ZM866.7,144.3L878.3,144.3L872.5,133.9ZM870.2,139L881.8,139L876,128.5ZM873.7,135.5L885.3,135.5L879.5,125.1ZM877.2,133L888.8,133L883,122.6ZM880.7,128.5L892.3,128.5L886.5,118ZM884.2,123.8L895.8,123.8L890,113.4ZM887.7,119.5L899.3,119.5L893.5,109.1ZM891.2,115.3L902.8,115.3L897,104.9ZM894.7,111.8L906.3,111.8L900.5,101.4ZM898.2,113.7L909.8,113.7L904,103.3ZM901.7,110.9L913.3,110.9L907.5,100.5ZM905.2,105L916.8,105L911,94.6ZM908.7,104.6L920.3,104.6L914.5,94.1ZM912.2,102.6L923.8,102.6L918,92.2ZM915.7,97.5L927.3,97.5L921.5,87.1ZM919.2,98L930.8,98L925,87.6ZM922.7,95.4L934.3,95.4L928.5,85ZM926.2,96.8L937.8,96.8L932,86.4ZM929.7,96.7L941.3,96.7L935.5,86.3ZM933.2,96.2L944.8,96.2L939,85.7ZM936.7,94.6L948.3,94.6L942.5,84.2ZM940.2,92.4L951.8,92.4L946,82ZM943.7,83.8L955.3,83.8L949.5,73.4ZM947.2,84.5L958.8,84.5L953,74.1ZM950.7,77.4L962.3,77.4L956.5,67ZM954.2,82.3L965.8,82.3L960,71.8ZM957.7,81.8L969.3,81.8L963.5,71.4ZM961.2,82.6L972.8,82.6L967,72.1ZM964.7,82.9L976.3,82.9L970.5,72.4ZM968.2,89.1L979.8,89.1L974,78.7ZM971.7,88.8L983.3,88.8L977.5,78.4ZM975.2,90.6L986.8,90.6L981,80.2ZM978.7,89.9L990.3,89.9L984.5,79.5ZM982.2,91.1L993.8,91.1L988,80.6ZM985.7,87.2L997.3,87.2L991.5,76.8ZM989.2,90.1L1000.8,90.1L995,79.6ZM992.7,85.4L1004.3,85.4L998.5,74.9ZM996.2,83.9L1007.8,83.9L1002,73.4ZM999.7,79.8L1011.3,79.8L1005.5,69.4ZM1003.2,74.7L1014.8,74.7L1009,64.3ZM1006.7,71.6L1018.3,71.6L1012.5,61.2ZM1010.2,66.9L1021.8,66.9L1016,56.4ZM1013.7,66.7L1025.3,66.7L1019.5,56.3ZM1017.2,62.9L1028.8,62.9L1023,52.5ZM1020.7,62.2L1032.3,62.2L1026.5,51.8ZM1024.2,59.8L1035.8,59.8L1030,49.4ZM1027.7,64.8L1039.3,64.8L1033.5,54.3ZM1031.2,78.2L1042.8,78.2L1037,67.7ZM1034.7,84.6L1046.3,84.6L1040.5,74.1ZM1038.2,89.5L1049.8,89.5L1044,79.1ZM1041.7,95.3L1053.3,95.3L1047.5,84.9ZM1045.2,98.1L1056.8,98.1L1051,87.6ZM1048.7,106.7L1060.3,106.7L1054.5,96.2ZM1052.2,112.1L1063.8,112.1L1058,101.7ZM1055.7,117.5L1067.3,117.5L1061.5,107ZM1059.2,119.3L1070.8,119.3L1065,108.9ZM1062.7,123.9L1074.3,123.9L1068.5,113.5ZM1066.2,124.2L1077.8,124.2L1072,113.7ZM1069.7,124.8L1081.3,124.8L1075.5,114.4ZM1073.2,125.7L1084.8,125.7L1079,115.2ZM1076.7,133.4L1088.3,133.4L1082.5,122.9ZM1080.2,138.9L1091.8,138.9L1086,128.4ZM1083.7,145.5L1095.3,145.5L1089.5,135.1ZM1087.2,147L1098.8,147L1093,136.6ZM1090.7,152L1102.3,152L1096.5,141.6ZM1094.2,155.9L1105.8,155.9L1100,145.4ZM1097.7,157.1L1109.3,157.1L1103.5,146.7ZM1101.2,158.2L1112.8,158.2L1107,147.8ZM1104.7,161.1L1116.3,161.1L1110.5,150.6ZM1108.2,167.8L1119.8,167.8L1114,157.4ZM1111.7,175L1123.3,175L1117.5,164.6ZM1115.2,174.4L1126.8,174.4L1121,164ZM1118.7,182.5L1130.3,182.5L1124.5,172.1ZM1122.2,184.3L1133.8,184.3L1128,173.9ZM1125.7,192.1L1137.3,192.1L1131.5,181.7ZM1129.2,195.2L1140.8,195.2L1135,184.7ZM1132.7,195.6L1144.3,195.6L1138.5,185.2ZM1136.2,195.8L1147.8,195.8L1142,185.3ZM1139.7,201L1151.3,201L1145.5,190.6ZM1143.2,200.8L1154.8,200.8L1149,190.4ZM1146.7,202.1L1158.3,202.1L1152.5,191.6ZM1150.2,203.6L1161.8,203.6L1156,193.1ZM1153.7,207.8L1165.3,207.8L1159.5,197.4ZM1157.2,209.8L1168.8,209.8L1163,199.3ZM1160.7,205.7L1172.3,205.7L1166.5,195.2ZM1164.2,206.8L1175.8,206.8L1170,196.3ZM1167.7,207.5L1179.3,207.5L1173.5,197ZM1171.2,209L1182.8,209L1177,198.6ZM1174.7,211.2L1186.3,211.2L1180.5,200.8ZM1178.2,211.4L1189.8,211.4L1184,200.9ZM1181.7,208.9L1193.3,208.9L1187.5,198.5ZM1185.2,210.8L1196.8,210.8L1191,200.4ZM1188.7,214.8L1200.3,214.8L1194.5,204.4ZM1192.2,216.9L1203.8,216.9L1198,206.4ZM1195.7,213.8L1207.3,213.8L1201.5,203.3ZM1199.2,214.8L1210.8,214.8L1205,204.4ZM1202.7,218.5L1214.3,218.5L1208.5,208ZM1206.2,218.9L1217.8,218.9L1212,208.4ZM1209.7,223.7L1221.3,223.7L1215.5,213.2ZM1213.2,227.4L1224.8,227.4L1219,217ZM1216.7,233L1228.3,233L1222.5,222.6ZM1220.2,233.1L1231.8,233.1L1226,222.7ZM1223.7,236.5L1235.3,236.5L1229.5,226ZM1227.2,239.8L1238.8,239.8L1233,229.3ZM1230.7,240.9L1242.3,240.9L1236.5,230.4ZM1234.2,243.1L1245.8,243.1L1240,232.7ZM1237.7,246.6L1249.3,246.6L1243.5,236.2ZM1241.2,249.9L1252.8,249.9L1247,239.4ZM1244.7,251.3L1256.3,251.3L1250.5,240.9ZM1248.2,250.2L1259.8,250.2L1254,239.8ZM1251.7,255.9L1263.3,255.9L1257.5,245.5ZM1255.2,254.8L1266.8,254.8L1261,244.4ZM1258.7,259L1270.3,259L1264.5,248.5ZM1262.2,258.3L1273.8,258.3L1268,247.9ZM1265.7,261.9L1277.3,261.9L1271.5,251.5ZM1269.2,262.6L1280.8,262.6L1275,252.2ZM1272.7,262.8L1284.3,262.8L1278.5,252.4ZM1276.2,268.9L1287.8,268.9L1282,258.4ZM1279.7,271.3L1291.3,271.3L1285.5,260.9ZM1283.2,274.3L1294.8,274.3L1289,263.8ZM1286.7,278.7L1298.3,278.7L1292.5,268.2ZM1290.2,280.7L1301.8,280.7L1296,270.2ZM1293.7,283.8L1305.3,283.8L1299.5,273.3ZM1297.2,284.8L1308.8,284.8L1303,274.3ZM1300.7,286.8L1312.3,286.8L1306.5,276.3ZM1304.2,291.1L1315.8,291.1L1310,280.6ZM1307.7,285.5L1319.3,285.5L1313.5,275.1ZM1311.2,296.2L1322.8,296.2L1317,285.8ZM1314.7,301.4L1326.3,301.4L1320.5,290.9ZM1318.2,305.6L1329.8,305.6L1324,295.2Z"/>
<polyline points="764,276.8 767.5,273.7 771,272.7 774.5,273.6 778,272.3 781.5,271 785,267.1 788.5,266.9 792,264.3 795.5,261.7 799,259 802.5,256.9 806,259.4 809.5,254.3 813,259 816.5,254 820,251.5 823.5,249.4 827,247.6 830.5,248.9 834,245.1 837.5,245.4 841,242.6 844.5,247.7 848,244.7 851.5,239.9 855,239.3 858.5,234.8 862,235.1 865.5,235 869,234.6 872.5,229.4 876,224.6 879.5,222.2 883,216 886.5,212 890,205.9 893.5,205.9 897,202.4 900.5,199.3 904,200.5 907.5,197.5 911,193.5 914.5,187.6 918,191.7 921.5,186.7 925,187.4 928.5,184.6 932,185.6 935.5,187.7 939,181.2 942.5,182.5 946,177.4 949.5,171.9 953,170.5 956.5,169.7 960,164.8 963.5,166 967,164.9 970.5,162.9 974,160.2 977.5,159 981,160.5 984.5,158.4 988,152.8 991.5,154.5 995,151.7 998.5,153.2 1002,149.6 1005.5,148.5 1009,141.7 1012.5,133.2 1016,128.7 1019.5,124.2 1023,122.1 1026.5,126 1030,127.5 1033.5,131.2 1037,138 1040.5,142.7 1044,143.9 1047.5,144.1 1051,147.1 1054.5,150.2 1058,155.1 1061.5,155.7 1065,163.5 1068.5,169.3 1072,174.2 1075.5,178.9 1079,181.6 1082.5,186.8 1086,189.9 1089.5,191.9 1093,195 1096.5,197.3 1100,201.6 1103.5,203.7 1107,204.9 1110.5,210.3 1114,210.2 1117.5,215.6 1121,216 1124.5,219.2 1128,224.1 1131.5,227.7 1135,229.9 1138.5,230.6 1142,230.6 1145.5,228.8 1149,230.4 1152.5,227.4 1156,230.5 1159.5,234.2 1163,236.1 1166.5,234.2 1170,234.4 1173.5,234.8 1177,234 1180.5,233.7 1184,234.5 1187.5,234.9 1191,235 1194.5,235.2 1198,238.3 1201.5,239.2 1205,240.6 1208.5,241 1212,238.7 1215.5,244.5 1219,245.2 1222.5,242.2 1226,241.8 1229.5,246.3 1233,247.6 1236.5,252.1 1240,259.3 1243.5,263.4 1247,267.1 1250.5,270.7 1254,272.4 1257.5,274.1 1261,275.4 1264.5,276.8 1268,276.9 1271.5,279.7 1275,282.1 1278.5,284.7 1282,284.5 1285.5,288 1289,287 1292.5,287.1 1296,287.5 1299.5,289.7 1303,293.7 1306.5,298.2 1310,301.7 1313.5,302.7 1317,308.9 1320.5,305.8 1324,308.3" fill="none" stroke="#ff0000" stroke-width="3" stroke-linejoin="round" stroke-linecap="round" />
<g fill="#ff0000"><circle cx="764" cy="276.8" r="6"/><circle cx="767.5" cy="273.7" r="6"/><circle cx="771" cy="272.7" r="6"/><circle cx="774.5" cy="273.6" r="6"/><circle cx="778" cy="272.3" r="6"/><circle cx="781.5" cy="271" r="6"/><circle cx="785" cy="267.1" r="6"/><circle cx="788.5" cy="266.9" r="6"/><circle cx="792" cy="264.3" r="6"/><circle cx="795.5" cy="261.7" r="6"/><circle cx="799" cy="259" r="6"/><circle cx="802.5" cy="256.9" r="6"/><circle cx="806" cy="259.4" r="6"/><circle cx="809.5" cy="254.3" r="6"/><circle cx="813" cy="259" r="6"/><circle cx="816.5" cy="254" r="6"/><circle cx="820" cy="251.5" r="6"/><circle cx="823.5" cy="249.4" r="6"/><circle cx="827" cy="247.6" r="6"/><circle cx="830.5" cy="248.9" r="6"/><circle cx="834" cy="245.1" r="6"/><circle cx="837.5" cy="245.4" r="6"/><circle cx="841" cy="242.6" r="6"/><circle cx="844.5" cy="247.7" r="6"/><circle cx="848" cy="244.7" r="6"/><circle cx="851.5" cy="239.9" r="6"/><circle cx="855" cy="239.3" r="6"/><circle cx="858.5" cy="234.8" r="6"/><circle cx="862" cy="235.1" r="6"/><circle cx="865.5" cy="235" r="6"/><circle cx="869" cy="234.6" r="6"/><circle cx="872.5" cy="229.4" r="6"/><circle cx="876" cy="224.6" r="6"/><circle cx="879.5" cy="222.2" r="6"/><circle cx="883" cy="216" r="6"/><circle cx="886.5" cy="212" r="6"/><circle cx="890" cy="205.9" r="6"/><circle cx="893.5" cy="205.9" r="6"/><circle cx="897" cy="202.4" r="6"/><circle cx="900.5" cy="199.3" r="6"/><circle cx="904" cy="200.5" r="6"/><circle cx="907.5" cy="197.5" r="6"/><circle cx="911" cy="193.5" r="6"/><circle cx="914.5" cy="187.6" r="6"/><circle cx="918" cy="191.7" r="6"/><circle cx="921.5" cy="186.7" r="6"/><circle cx="925" cy="187.4" r="6"/><circle cx="928.5" cy="184.6" r="6"/><circle cx="932" cy="185.6" r="6"/><circle cx="935.5" cy="187.7" r="6"/><circle cx="939" cy="181.2" r="6"/><circle cx="942.5" cy="182.5" r="6"/><circle cx="946" cy="177.4" r="6"/><circle cx="949.5" cy="171.9" r="6"/><circle cx="953" cy="170.5" r="6"/><circle cx="956.5" cy="169.7" r="6"/><circle cx="960" cy="164.8" r="6"/><circle cx="963.5" cy="166" r="6"/><circle cx="967" cy="164.9" r="6"/><circle cx="970.5" cy="162.9" r="6"/><circle cx="974" cy="160.2" r="6"/><circle cx="977.5" cy="159" r="6"/><circle cx="981" cy="160.5" r="6"/><circle cx="984.5" cy="158.4" r="6"/><circle cx="988" cy="152.8" r="6"/><circle cx="991.5" cy="154.5" r="6"/><circle cx="995" cy="151.7" r="6"/><circle cx="998.5" cy="153.2" r="6"/><circle cx="1002" cy="149.6" r="6"/><circle cx="1005.5" cy="148.5" r="6"/><circle cx="1009" cy="141.7" r="6"/><circle cx="1012.5" cy="133.2" r="6"/><circle cx="1016" cy="128.7" r="6"/><circle cx="1019.5" cy="124.2" r="6"/><circle cx="1023" cy="122.1" r="6"/><circle cx="1026.5" cy="126" r="6"/><circle cx="1030" cy="127.5" r="6"/><circle cx="1033.5" cy="131.2" r="6"/><circle cx="1037" cy="138" r="6"/><circle cx="1040.5" cy="142.7" r="6"/><circle cx="1044" cy="143.9" r="6"/><circle cx="1047.5" cy="144.1" r="6"/><circle cx="1051" cy="147.1" r="6"/><circle cx="1054.5" cy="150.2" r="6"/><circle cx="1058" cy="155.1" r="6"/><circle cx="1061.5" cy="155.7" r="6"/><circle cx="1065" cy="163.5" r="6"/><circle cx="1068.5" cy="169.3" r="6"/><circle cx="1072" cy="174.2" r="6"/><circle cx="1075.5" cy="178.9" r="6"/><circle cx="1079" cy="181.6" r="6"/><circle cx="1082.5" cy="186.8" r="6"/><circle cx="1086" cy="189.9" r="6"/><circle cx="1089.5" cy="191.9" r="6"/><circle cx="1093" cy="195" r="6"/><circle cx="1096.5" cy="197.3" r="6"/><circle cx="1100" cy="201.6" r="6"/><circle cx="1103.5" cy="203.7" r="6"/><circle cx="1107" cy="204.9" r="6"/><circle cx="1110.5" cy="210.3" r="6"/><circle cx="1114" cy="210.2" r="6"/><circle cx="1117.5" cy="215.6" r="6"/><circle cx="1121" cy="216" r="6"/><circle cx="1124.5" cy="219.2" r="6"/><circle cx="1128" cy="224.1" r="6"/><circle cx="1131.5" cy="227.7" r="6"/><circle cx="1135" cy="229.9" r="6"/><circle cx="1138.5" cy="230.6" r="6"/><circle cx="1142" cy="230.6" r="6"/><circle cx="1145.5" cy="228.8" r="6"/><circle cx="1149" cy="230.4" r="6"/><circle cx="1152.5" cy="227.4" r="6"/><circle cx="1156" cy="230.5" r="6"/><circle cx="1159.5" cy="234.2" r="6"/><circle cx="1163" cy="236.1" r="6"/><circle cx="1166.5" cy="234.2" r="6"/><circle cx="1170" cy="234.4" r="6"/><circle cx="1173.5" cy="234.8" r="6"/><circle cx="1177" cy="234" r="6"/><circle cx="1180.5" cy="233.7" r="6"/><circle cx="1184" cy="234.5" r="6"/><circle cx="1187.5" cy="234.9" r="6"/><circle cx="1191" cy="235" r="6"/><circle cx="1194.5" cy="235.2" r="6"/><circle cx="1198" cy="238.3" r="6"/><circle cx="1201.5" cy="239.2" r="6"/><circle cx="1205" cy="240.6" r="6"/><circle cx="1208.5" cy="241" r="6"/><circle cx="1212" cy="238.7" r="6"/><circle cx="1215.5" cy="244.5" r="6"/><circle cx="1219" cy="245.2" r="6"/><circle cx="1222.5" cy="242.2" r="6"/><circle cx="1226" cy="241.8" r="6"/><circle cx="1229.5" cy="246.3" r="6"/><circle cx="1233" cy="247.6" r="6"/><circle cx="1236.5" cy="252.1" r="6"/><circle cx="1240" cy="259.3" r="6"/><circle cx="1243.5" cy="263.4" r="6"/><circle cx="1247" cy="267.1" r="6"/><circle cx="1250.5" cy="270.7" r="6"/><circle cx="1254" cy="272.4" r="6"/><circle cx="1257.5" cy="274.1" r="6"/><circle cx="1261" cy="275.4" r="6"/><circle cx="1264.5" cy="276.8" r="6"/><circle cx="1268" cy="276.9" r="6"/><circle cx="1271.5" cy="279.7" r="6"/><circle cx="1275" cy="282.1" r="6"/><circle cx="1278.5" cy="284.7" r="6"/><circle cx="1282" cy="284.5" r="6"/><circle cx="1285.5" cy="288" r="6"/><circle cx="1289" cy="287" r="6"/><circle cx="1292.5" cy="287.1" r="6"/><circle cx="1296" cy="287.5" r="6"/><circle cx="1299.5" cy="289.7" r="6"/><circle cx="1303" cy="293.7" r="6"/><circle cx="1306.5" cy="298.2" r="6"/><circle cx="1310" cy="301.7" r="6"/><circle cx="1313.5" cy="302.7" r="6"/><circle cx="1317" cy="308.9" r="6"/><circle cx="1320.5" cy="305.8" r="6"/><circle cx="1324" cy="308.3" r="6"/></g>
<polyline points="764,391.4 767.5,393.2 771,389.6 774.5,389.3 778,390 781.5,390.6 785,391.3 788.5,393.2 792,390.3 795.5,391 799,389.7 802.5,388.3 806,387.5 809.5,385.9 813,384.6 816.5,382.4 820,381.3 823.5,378.6 827,383.1 830.5,383.8 834,384.2 837.5,382.9 841,379.5 844.5,379.3 848,377.3 851.5,376.3 855,374.9 858.5,372.3 862,371.7 865.5,371.7 869,371.1 872.5,373.8 876,367.8 879.5,371.6 883,367.6 886.5,370.2 890,368.3 893.5,364.8 897,360.8 900.5,358.3 904,355.1 907.5,352 911,350.4 914.5,348.9 918,344.6 921.5,344.2 925,340.9 928.5,342.1 932,341.7 935.5,336.5 939,330.9 942.5,330.9 946,323.1 949.5,322.3 953,319.1 956.5,319.3 960,313.9 963.5,315.8 967,313.1 970.5,312.1 974,311.5 977.5,313.3 981,311.7 984.5,309 988,308.2 991.5,305.7 995,303.9 998.5,300.6 1002,297.2 1005.5,289.4 1009,286.8 1012.5,285.8 1016,281.9 1019.5,278.8 1023,277.4 1026.5,276.3 1030,275.6 1033.5,275.2 1037,279.1 1040.5,285.7 1044,285.3 1047.5,289.3 1051,292.4 1054.5,291.3 1058,292.9 1061.5,291.6 1065,290.7 1068.5,290.8 1072,288.2 1075.5,288.5 1079,287 1082.5,286 1086,289.7 1089.5,288.8 1093,291.7 1096.5,294 1100,296.4 1103.5,287.8 1107,284.5 1110.5,286.9 1114,292.7 1117.5,294.8 1121,295.5 1124.5,299.2 1128,301.3 1131.5,300.5 1135,301.9 1138.5,301.8 1142,296.5 1145.5,295.7 1149,299.6 1152.5,300.1 1156,300.3 1159.5,304.7 1163,302.9 1166.5,304 1170,298.3 1173.5,297.4 1177,295.3 1180.5,295.7 1184,291.7 1187.5,293.6 1191,296 1194.5,298 1198,296.2 1201.5,294.4 1205,292.8 1208.5,294.1 1212,295.5 1215.5,296.6 1219,297.1 1222.5,299.2 1226,298.6 1229.5,297.5 1233,298.7 1236.5,298.3 1240,302.6 1243.5,306.9 1247,308.7 1250.5,311.4 1254,313.2 1257.5,314.8 1261,313.9 1264.5,316.5 1268,312.6 1271.5,315 1275,315.1 1278.5,314.1 1282,317.4 1285.5,318.9 1289,321.6 1292.5,322.9 1296,327 1299.5,325.3 1303,327 1306.5,331.2 1310,335.4 1313.5,333.5 1317,335.5 1320.5,331.9 1324,332" fill="none" stroke="#008000" stroke-width="3" stroke-linejoin="round" stroke-linecap="round" />
<path fill="#008000" d="M764,384.4L771,391.4L764,398.4L757,391.4ZM767.5,386.2L774.5,393.2L767.5,400.2L760.5,393.2ZM771,382.6L778,389.6L771,396.6L764,389.6ZM774.5,382.3L781.5,389.3L774.5,396.3L767.5,389.3ZM778,383L785,390L778,397L771,390ZM781.5,383.6L788.5,390.6L781.5,397.6L774.5,390.6ZM785,384.3L792,391.3L785,398.3L778,391.3ZM788.5,386.2L795.5,393.2L788.5,400.2L781.5,393.2ZM792,383.3L799,390.3L792,397.3L785,390.3ZM795.5,384L802.5,391L795.5,398L788.5,391ZM799,382.7L806,389.7L799,396.7L792,389.7ZM802.5,381.3L809.5,388.3L802.5,395.3L795.5,388.3ZM806,380.5L813,387.5L806,394.5L799,387.5ZM809.5,378.9L816.5,385.9L809.5,392.9L802.5,385.9ZM813,377.6L820,384.6L813,391.6L806,384.6ZM816.5,375.4L823.5,382.4L816.5,389.4L809.5,382.4ZM820,374.3L827,381.3L820,388.3L813,381.3ZM823.5,371.6L830.5,378.6L823.5,385.6L816.5,378.6ZM827,376.1L834,383.1L827,390.1L820,383.1ZM830.5,376.8L837.5,383.8L830.5,390.8L823.5,383.8ZM834,377.2L841,384.2L834,391.2L827,384.2ZM837.5,375.9L844.5,382.9L837.5,389.9L830.5,382.9ZM841,372.5L848,379.5L841,386.5L834,379.5ZM844.5,372.3L851.5,379.3L844.5,386.3L837.5,379.3ZM848,370.3L855,377.3L848,384.3L841,377.3ZM851.5,369.3L858.5,376.3L851.5,383.3L844.5,376.3ZM855,367.9L862,374.9L855,381.9L848,374.9ZM858.5,365.3L865.5,372.3L858.5,379.3L851.5,372.3ZM862,364.7L869,371.7L862,378.7L855,371.7ZM865.5,364.7L872.5,371.7L865.5,378.7L858.5,371.7ZM869,364.1L876,371.1L869,378.1L862,371.1ZM872.5,366.8L879.5,373.8L872.5,380.8L865.5,373.8ZM876,360.8L883,367.8L876,374.8L869,367.8ZM879.5,364.6L886.5,371.6L879.5,378.6L872.5,371.6ZM883,360.6L890,367.6L883,374.6L876,367.6ZM886.5,363.2L893.5,370.2L886.5,377.2L879.5,370.2ZM890,361.3L897,368.3L890,375.3L883,368.3ZM893.5,357.8L900.5,364.8L893.5,371.8L886.5,364.8ZM897,353.8L904,360.8L897,367.8L890,360.8ZM900.5,351.3L907.5,358.3L900.5,365.3L893.5,358.3ZM904,348.1L911,355.1L904,362.1L897,355.1ZM907.5,345L914.5,352L907.5,359L900.5,352ZM911,343.4L918,350.4L911,357.4L904,350.4ZM914.5,341.9L921.5,348.9L914.5,355.9L907.5,348.9ZM918,337.6L925,344.6L918,351.6L911,344.6ZM921.5,337.2L928.5,344.2L921.5,351.2L914.5,344.2ZM925,333.9L932,340.9L925,347.9L918,340.9ZM928.5,335.1L935.5,342.1L928.5,349.1L921.5,342.1ZM932,334.7L939,341.7L932,348.7L925,341.7ZM935.5,329.5L942.5,336.5L935.5,343.5L928.5,336.5ZM939,323.9L946,330.9L939,337.9L932,330.9ZM942.5,323.9L949.5,330.9L942.5,337.9L935.5,330.9ZM946,316.1L953,323.1L946,330.1L939,323.1ZM949.5,315.3L956.5,322.3L949.5,329.3L942.5,322.3ZM953,312.1L960,319.1L953,326.1L946,319.1ZM956.5,312.3L963.5,319.3L956.5,326.3L949.5,319.3ZM960,306.9L967,313.9L960,320.9L953,313.9ZM963.5,308.8L970.5,315.8L963.5,322.8L956.5,315.8ZM967,306.1L974,313.1L967,320.1L960,313.1ZM970.5,305.1L977.5,312.1L970.5,319.1L963.5,312.1ZM974,304.5L981,311.5L974,318.5L967,311.5ZM977.5,306.3L984.5,313.3L977.5,320.3L970.5,313.3ZM981,304.7L988,311.7L981,318.7L974,311.7ZM984.5,302L991.5,309L984.5,316L977.5,309ZM988,301.2L995,308.2L988,315.2L981,308.2ZM991.5,298.7L998.5,305.7L991.5,312.7L984.5,305.7ZM995,296.9L1002,303.9L995,310.9L988,303.9ZM998.5,293.6L1005.5,300.6L998.5,307.6L991.5,300.6ZM1002,290.2L1009,297.2L1002,304.2L995,297.2ZM1005.5,282.4L1012.5,289.4L1005.5,296.4L998.5,289.4ZM1009,279.8L1016,286.8L1009,293.8L1002,286.8ZM1012.5,278.8L1019.5,285.8L1012.5,292.8L1005.5,285.8ZM1016,274.9L1023,281.9L1016,288.9L1009,281.9ZM1019.5,271.8L1026.5,278.8L1019.5,285.8L1012.5,278.8ZM1023,270.4L1030,277.4L1023,284.4L1016,277.4ZM1026.5,269.3L1033.5,276.3L1026.5,283.3L1019.5,276.3ZM1030,268.6L1037,275.6L1030,282.6L1023,275.6ZM1033.5,268.2L1040.5,275.2L1033.5,282.2L1026.5,275.2ZM1037,272.1L1044,279.1L1037,286.1L1030,279.1ZM1040.5,278.7L1047.5,285.7L1040.5,292.7L1033.5,285.7ZM1044,278.3L1051,285.3L1044,292.3L1037,285.3ZM1047.5,282.3L1054.5,289.3L1047.5,296.3L1040.5,289.3ZM1051,285.4L1058,292.4L1051,299.4L1044,292.4ZM1054.5,284.3L1061.5,291.3L1054.5,298.3L1047.5,291.3ZM1058,285.9L1065,292.9L1058,299.9L1051,292.9ZM1061.5,284.6L1068.5,291.6L1061.5,298.6L1054.5,291.6ZM1065,283.7L1072,290.7L1065,297.7L1058,290.7ZM1068.5,283.8L1075.5,290.8L1068.5,297.8L1061.5,290.8ZM1072,281.2L1079,288.2L1072,295.2L1065,288.2ZM1075.5,281.5L1082.5,288.5L1075.5,295.5L1068.5,288.5ZM1079,280L1086,287L1079,294L1072,287ZM1082.5,279L1089.5,286L1082.5,293L1075.5,286ZM1086,282.7L1093,289.7L1086,296.7L1079,289.7ZM1089.5,281.8L1096.5,288.8L1089.5,295.8L1082.5,288.8ZM1093,284.7L1100,291.7L1093,298.7L1086,291.7ZM1096.5,287L1103.5,294L1096.5,301L1089.5,294ZM1100,289.4L1107,296.4L1100,303.4L1093,296.4ZM1103.5,280.8L1110.5,287.8L1103.5,294.8L1096.5,287.8ZM1107,277.5L1114,284.5L1107,291.5L1100,284.5ZM1110.5,279.9L1117.5,286.9L1110.5,293.9L1103.5,286.9ZM1114,285.7L1121,292.7L1114,299.7L1107,292.7ZM1117.5,287.8L1124.5,294.8L1117.5,301.8L1110.5,294.8ZM1121,288.5L1128,295.5L1121,302.5L1114,295.5ZM1124.5,292.2L1131.5,299.2L1124.5,306.2L1117.5,299.2ZM1128,294.3L1135,301.3L1128,308.3L1121,301.3ZM1131.5,293.5L1138.5,300.5L1131.5,307.5L1124.5,300.5ZM1135,294.9L1142,301.9L1135,308.9L1128,301.9ZM1138.5,294.8L1145.5,301.8L1138.5,308.8L1131.5,301.8ZM1142,289.5L1149,296.5L1142,303.5L1135,296.5ZM1145.5,288.7L1152.5,295.7L1145.5,302.7L1138.5,295.7ZM1149,292.6L1156,299.6L1149,306.6L1142,299.6ZM1152.5,293.1L1159.5,300.1L1152.5,307.1L1145.5,300.1ZM1156,293.3L1163,300.3L1156,307.3L1149,300.3ZM1159.5,297.7L1166.5,304.7L1159.5,311.7L1152.5,304.7ZM1163,295.9L1170,302.9L1163,309.9L1156,302.9ZM1166.5,297L1173.5,304L1166.5,311L1159.5,304ZM1170,291.3L1177,298.3L1170,305.3L1163,298.3ZM1173.5,290.4L1180.5,297.4L1173.5,304.4L1166.5,297.4ZM1177,288.3L1184,295.3L1177,302.3L1170,295.3ZM1180.5,288.7L1187.5,295.7L1180.5,302.7L1173.5,295.7ZM1184,284.7L1191,291.7L1184,298.7L1177,291.7ZM1187.5,286.6L1194.5,293.6L1187.5,300.6L1180.5,293.6ZM1191,289L1198,296L1191,303L1184,296ZM1194.5,291L1201.5,298L1194.5,305L1187.5,298ZM1198,289.2L1205,296.2L1198,303.2L1191,296.2ZM1201.5,287.4L1208.5,294.4L1201.5,301.4L1194.5,294.4ZM1205,285.8L1212,292.8L1205,299.8L1198,292.8ZM1208.5,287.1L1215.5,294.1L1208.5,301.1L1201.5,294.1ZM1212,288.5L1219,295.5L1212,302.5L1205,295.5ZM1215.5,289.6L1222.5,296.6L1215.5,303.6L1208.5,296.6ZM1219,290.1L1226,297.1L1219,304.1L1212,297.1ZM1222.5,292.2L1229.5,299.2L1222.5,306.2L1215.5,299.2ZM1226,291.6L1233,298.6L1226,305.6L1219,298.6ZM1229.5,290.5L1236.5,297.5L1229.5,304.5L1222.5,297.5ZM1233,291.7L1240,298.7L1233,305.7L1226,298.7ZM1236.5,291.3L1243.5,298.3L1236.5,305.3L1229.5,298.3ZM1240,295.6L1247,302.6L1240,309.6L1233,302.6ZM1243.5,299.9L1250.5,306.9L1243.5,313.9L1236.5,306.9ZM1247,301.7L1254,308.7L1247,315.7L1240,308.7ZM1250.5,304.4L1257.5,311.4L1250.5,318.4L1243.5,311.4ZM1254,306.2L1261,313.2L1254,320.2L1247,313.2ZM1257.5,307.8L1264.5,314.8L1257.5,321.8L1250.5,314.8ZM1261,306.9L1268,313.9L1261,320.9L1254,313.9ZM1264.5,309.5L1271.5,316.5L1264.5,323.5L1257.5,316.5ZM1268,305.6L1275,312.6L1268,319.6L1261,312.6ZM1271.5,308L1278.5,315L1271.5,322L1264.5,315ZM1275,308.1L1282,315.1L1275,322.1L1268,315.1ZM1278.5,307.1L1285.5,314.1L1278.5,321.1L1271.5,314.1ZM1282,310.4L1289,317.4L1282,324.4L1275,317.4ZM1285.5,311.9L1292.5,318.9L1285.5,325.9L1278.5,318.9ZM1289,314.6L1296,321.6L1289,328.6L1282,321.6ZM1292.5,315.9L1299.5,322.9L1292.5,329.9L1285.5,322.9ZM1296,320L1303,327L1296,334L1289,327ZM1299.5,318.3L1306.5,325.3L1299.5,332.3L1292.5,325.3ZM1303,320L1310,327L1303,334L1296,327ZM1306.5,324.2L1313.5,331.2L1306.5,338.2L1299.5,331.2ZM1310,328.4L1317,335.4L1310,342.4L1303,335.4ZM1313.5,326.5L1320.5,333.5L1313.5,340.5L1306.5,333.5ZM1317,328.5L1324,335.5L1317,342.5L1310,335.5ZM1320.5,324.9L1327.5,331.9L1320.5,338.9L1313.5,331.9ZM1324,325L1331,332L1324,339L1317,332Z"/>
</g>
<path d="M762.4,411.9L767.6,411.9L767.6,420.5L765,422.7L762.4,420.5ZM947.7,411.9L952.9,411.9L952.9,420.5L950.3,422.7L947.7,420.5ZM1133,411.9L1138.2,411.9L1138.2,420.5L1135.6,422.7L1133,420.5ZM1318.3,411.9L1323.5,411.9L1323.5,420.5L1320.9,422.7L1318.3,420.5Z"/>
<path d="M854.4,411.9L860.9,411.9L859.2,418.3L857.6,418.9L856,418.3ZM1039.8,411.9L1046.2,411.9L1044.5,418.3L1043,418.9L1041.4,418.3ZM1225,411.9L1231.5,411.9L1229.8,418.3L1228.2,418.9L1226.7,418.3Z"/>
<text transform="translate(765 449.6) scale(1 1.07)" font-size="31.5" text-anchor="middle" >400</text>
<text transform="translate(950.3 449.6) scale(1 1.07)" font-size="31.5" text-anchor="middle" >450</text>
<text transform="translate(1135.6 449.6) scale(1 1.07)" font-size="31.5" text-anchor="middle" >500</text>
<text transform="translate(1320.9 449.6) scale(1 1.07)" font-size="31.5" text-anchor="middle" >550</text>
<text transform="translate(1043.3 487.3)" font-size="31.5" text-anchor="middle" textLength="241.5" lengthAdjust="spacingAndGlyphs" >Wavelength (nm)</text>
<text transform="translate(730.9 215.6) rotate(-90)" font-size="31.5" text-anchor="middle" textLength="200.8" lengthAdjust="spacingAndGlyphs" >Intensity (a.u.)</text>
<text x="795.5" y="39.7" font-size="42" text-anchor="middle" >(b)</text>
<line x1="1090.2" y1="39.4" x2="1141.1" y2="39.4" stroke="#000" stroke-width="2.4" stroke-linecap="round"/>
<line x1="1090.2" y1="74.6" x2="1141.1" y2="74.6" stroke="#ff0000" stroke-width="2.4" stroke-linecap="round"/>
<line x1="1090.2" y1="110.4" x2="1141.1" y2="110.4" stroke="#008000" stroke-width="2.4" stroke-linecap="round"/>
<path fill="#000" d="M1109.2,43.9L1122.2,43.9L1115.7,32.2Z"/>
<circle cx="1115.7" cy="74.6" r="5.3" fill="#ff0000"/>
<path fill="#008000" d="M1115.7,103.6L1122.5,110.4L1115.7,117.2L1108.9,110.4Z"/>
<text transform="translate(1146.8 47) scale(1.04 1)" font-size="25" text-anchor="start" >ZIS</text>
<text transform="translate(1146.8 81.2) scale(1.04 1)" font-size="25" text-anchor="start" >Sv-ZIS</text>
<text transform="translate(1146.8 117.3) scale(1.04 1)" font-size="25" text-anchor="start" >Sv-ZIS/MoSe<tspan font-size="18" dy="8.5">2</tspan></text>
<g clip-path="url(#cc)">
<polyline points="84,898 85,900.8 86,902.9 87,904.3 88,905.4 89,906.1 90,906.6 91,907 92,907.3 93,907.5 94,907.6 95,907.7 96,907.8 97,907.9 98,907.9 99,907.9 100,908 101,908 102,908 103,908 104,908 105,908 106,908 107,908 108,908 109,908 110,908 111,908 112,908 113,908 114,908 115,908 116,908 117,908 118,908 119,908 120,908 121,908 122,908 123.2,908 123.7,878 124.7,872 126.2,870.3 157.8,870 158.2,899 158.8,901.4 159.8,903.2 160.8,904.4 161.8,905.2 162.8,905.7 163.8,906.1 164.8,906.3 165.8,906.5 166.8,906.6 167.8,906.7 170.8,906.8 173.8,906.8 176.8,906.8 179.8,906.8 182.8,906.8 185.8,906.8 188.8,906.8 191.8,906.8 194.8,906.8 197.7,906.8 198.2,879.8 199.2,873.8 200.7,872.1 232.2,871.8 232.6,899 233.2,902.2 234.2,904 235.2,905.1 236.2,905.9 237.2,906.5 238.2,906.8 239.2,907.1 240.2,907.2 241.2,907.3 242.2,907.4 245.2,907.5 248.2,907.5 251.2,907.5 254.2,907.5 257.2,907.5 260.2,907.5 263.2,907.5 266.2,907.5 269.2,907.5 272.2,907.5 272.7,880.7 273.7,874.7 275.2,873 306.7,872.7 307.1,899 307.7,902.9 308.7,904.7 309.7,905.9 310.7,906.7 311.7,907.2 312.7,907.6 313.7,907.8 314.7,908 315.7,908.1 316.7,908.2 319.7,908.3 322.7,908.3 325.7,908.3 328.7,908.3 331.7,908.3 334.7,908.3 337.7,908.3 340.7,908.3 343.7,908.3 346.6,908.3 347.1,881.3 348.1,875.3 349.6,873.6 381.2,873.3 381.6,899 382.2,903.7 383.2,905.5 384.2,906.6 385.2,907.4 386.2,908 387.2,908.3 388.2,908.6 389.2,908.7 390.2,908.8 391.2,908.9 394.2,909 397.2,909 400.2,909 403.2,909 406.2,909 409.2,909 412.2,909 415.2,909 418.2,909 421.1,909 421.6,881.8 422.6,875.8 424.1,874.1 455.6,873.8 456,899 456.6,904.4 457.6,906.2 458.6,907.4 459.6,908.2 460.6,908.7 461.6,909.1 462.6,909.3 463.6,909.5 464.6,909.6 465.6,909.7 468.6,909.8 471.6,909.8 474.6,909.8 477.6,909.8 480.6,909.8 483.6,909.8 486.6,909.8 489.6,909.8 492.6,909.8 495.6,909.8 496.1,882.3 497.1,876.3 498.6,874.6 530.1,874.3 530.5,899 531.1,905.2 532.1,907 533.1,908.1 534.1,908.9 535.1,909.5 536.1,909.8 537.1,910.1 538.1,910.2 539.1,910.3 540.1,910.4 543.1,910.5 546.1,910.5 549.1,910.5 552.1,910.5 555.1,910.5 558.1,910.5 561.1,910.5 564.1,910.5 567.1,910.5 570,910.5 570.5,882.7 571.5,876.7 573,875 604.6,874.7 605,899 605.6,905.9 606.6,907.7 607.6,908.9 608.6,909.7 609.6,910.2 610.6,910.6 611.6,910.8 612.6,911 613.6,911.1 614.6,911.2 617.6,911.3 620.6,911.3 623.6,911.3 626.6,911.3 629.6,911.3 632.6,911.3 635.6,911.3 638.6,911.3 641.6,911.3 644.6,911.3 647.6,911.3" fill="none" stroke="#000" stroke-width="3.8" stroke-linejoin="round" stroke-linecap="round" />
<polyline points="84,891.5 84.8,895.4 85.6,898.5 86.4,900.9 87.2,902.9 88,904.4 88.8,905.7 89.6,906.7 90.4,907.4 91.2,908.1 92,908.6 92.8,909 93.6,909.3 94.4,909.5 95.2,909.7 96,909.9 96.8,910 97.6,910.1 98.4,910.2 99.2,910.3 100,910.3 100.8,910.3 101.6,910.4 102.4,910.4 103.2,910.4 104,910.4 104.8,910.5 105.6,910.5 106.4,910.5 107.2,910.5 108,910.5 108.8,910.5 109.6,910.5 110.4,910.5 111.2,910.5 112,910.5 112.8,910.5 113.6,910.5 114.4,910.5 115.2,910.5 116,910.5 116.8,910.5 117.6,910.5 118.4,910.5 119.2,910.5 120,910.5 120.8,910.5 121.6,910.5 122.3,910.5 122.7,858.2 123.5,853.7 124.8,852.5 156.9,852.7 157.3,893 157.9,897.5 158.7,899.9 159.5,901.9 160.3,903.4 161.1,904.7 161.9,905.7 162.7,906.4 163.5,907.1 164.3,907.6 165.1,908 165.9,908.3 166.7,908.5 167.5,908.7 170.5,909.2 173.5,909.4 176.5,909.4 179.5,909.5 182.5,909.5 185.5,909.5 188.5,909.5 191.5,909.5 194.5,909.5 196.8,909.5 197.2,859.3 198,854.8 199.3,853.6 231.3,853.8 231.7,893 232.3,897.5 233.1,899.9 233.9,901.9 234.7,903.4 235.5,904.7 236.3,905.7 237.1,906.4 237.9,907.1 238.7,907.6 239.5,908 240.3,908.3 241.1,908.5 241.9,908.7 244.9,909.2 247.9,909.4 250.9,909.4 253.9,909.5 256.9,909.5 259.9,909.5 262.9,909.5 265.9,909.5 268.9,909.5 271.3,909.5 271.7,859.8 272.5,855.3 273.8,854.1 305.8,854.3 306.2,893 306.8,897.5 307.6,899.9 308.4,901.9 309.2,903.4 310,904.7 310.8,905.7 311.6,906.4 312.4,907.1 313.2,907.6 314,908 314.8,908.3 315.6,908.5 316.4,908.7 319.4,909.2 322.4,909.4 325.4,909.4 328.4,909.5 331.4,909.5 334.4,909.5 337.4,909.5 340.4,909.5 343.4,909.5 345.7,909.5 346.1,860.4 346.9,855.9 348.2,854.7 380.3,854.9 380.7,893 381.3,897.5 382.1,899.9 382.9,901.9 383.7,903.4 384.5,904.7 385.3,905.7 386.1,906.4 386.9,907.1 387.7,907.6 388.5,908 389.3,908.3 390.1,908.5 390.9,908.7 393.9,909.2 396.9,909.4 399.9,909.4 402.9,909.5 405.9,909.5 408.9,909.5 411.9,909.5 414.9,909.5 417.9,909.5 420.2,909.5 420.6,861 421.4,856.5 422.7,855.3 454.7,855.5 455.1,893 455.7,897.5 456.5,899.9 457.3,901.9 458.1,903.4 458.9,904.7 459.7,905.7 460.5,906.4 461.3,907.1 462.1,907.6 462.9,908 463.7,908.3 464.5,908.5 465.3,908.7 468.3,909.2 471.3,909.4 474.3,909.4 477.3,909.5 480.3,909.5 483.3,909.5 486.3,909.5 489.3,909.5 492.3,909.5 494.7,909.5 495.1,861.4 495.9,856.9 497.2,855.7 529.2,855.9 529.6,893 530.2,897.5 531,899.9 531.8,901.9 532.6,903.4 533.4,904.7 534.2,905.7 535,906.4 535.8,907.1 536.6,907.6 537.4,908 538.2,908.3 539,908.5 539.8,908.7 542.8,909.2 545.8,909.4 548.8,909.4 551.8,909.5 554.8,909.5 557.8,909.5 560.8,909.5 563.8,909.5 566.8,909.5 569.1,909.5 569.5,861.7 570.3,857.2 571.6,856 603.7,856.2 604.1,893 604.7,897.5 605.5,899.9 606.3,901.9 607.1,903.4 607.9,904.7 608.7,905.7 609.5,906.4 610.3,907.1 611.1,907.6 611.9,908 612.7,908.3 613.5,908.5 614.3,908.7 617.3,909.2 620.3,909.4 623.3,909.4 626.3,909.5 629.3,909.5 632.3,909.5 635.3,909.5 638.3,909.5 641.3,909.5 644.3,909.5 647.3,909.5" fill="none" stroke="#ff0000" stroke-width="3.8" stroke-linejoin="round" stroke-linecap="round" />
<polyline points="85.8,851.5 86.1,862 86.6,871 87.3,878 88.3,884.5 89.9,890.5 92,895 95.9,899.6 101.8,902.9 107,904.6 113.6,905.9 117.5,907 120,907 120.3,678.5 120.7,662.5 121.3,655.5 122.2,651.7 123.4,649.7 125,648.7 126.5,648.2 127.9,648.5 129.3,648.6 130.7,648.9 132.2,648.7 133.6,649 135,648 136.4,648.5 137.9,649.1 139.3,648.8 140.7,649.2 142.1,648.3 143.6,648.7 145,648.5 146.4,648.9 147.9,649 149.3,648.3 150.7,648.6 152.1,648.7 153.6,649.5 155,649.3 156.4,648.6 157.8,649.4 159.3,649.3 159.6,877 160.1,883.7 160.9,887.8 161.7,891.1 162.5,893.8 163.3,896 164.1,897.8 164.9,899.2 165.7,900.5 166.5,901.6 167.3,902.5 168.1,903.3 168.9,904 169.7,904.6 171.7,905.8 173.7,906.8 175.7,907.6 177.7,908.3 179.7,908.9 181.7,909.3 183.7,909.7 185.7,910.1 187.7,910.4 189.7,910.6 191.7,910.8 193.7,911 194.5,911 194.8,687.3 195.2,671.3 195.8,664.3 196.7,660.5 197.9,658.5 199.5,657.5 200.9,656.4 202.4,657.1 203.8,656.6 205.2,656.5 206.6,657.7 208.1,656.9 209.5,657 210.9,658 212.3,657.9 213.8,657.2 215.2,658.1 216.6,657.6 218,657.8 219.5,657.3 220.9,658.2 222.3,657.9 223.7,658.3 225.2,658.2 226.6,657.5 228,657.6 229.5,657.4 230.9,657.4 232.3,657.3 233.7,658.1 234,877 234.5,884.9 235.3,889 236.1,892.3 236.9,895 237.7,897.2 238.5,899 239.3,900.4 240.1,901.7 240.9,902.8 241.7,903.7 242.5,904.5 243.3,905.2 244.1,905.8 246.1,907 248.1,908 250.1,908.8 252.1,909.5 254.1,910.1 256.1,910.5 258.1,910.9 260.1,911.3 262.1,911.6 264.1,911.8 266.1,912 268.1,912.2 269,912.2 269.3,692.8 269.7,676.8 270.3,669.8 271.2,666 272.4,664 274,663 275.4,662.1 276.8,662.6 278.2,662 279.7,662.9 281.1,662.5 282.5,662.5 284,663.2 285.4,662.8 286.8,662.7 288.2,662.9 289.7,663.2 291.1,662.5 292.5,663.6 293.9,662.5 295.4,663.4 296.8,663.6 298.2,662.6 299.6,663.6 301.1,663.1 302.5,663.4 303.9,662.7 305.3,662.8 306.8,663 308.2,663.6 308.5,877 309,886.4 309.8,890.5 310.6,893.8 311.4,896.5 312.2,898.7 313,900.5 313.8,901.9 314.6,903.2 315.4,904.3 316.2,905.2 317,906 317.8,906.7 318.6,907.3 320.6,908.5 322.6,909.5 324.6,910.3 326.6,911 328.6,911.6 330.6,912 332.6,912.4 334.6,912.8 336.6,913.1 338.6,913.3 340.6,913.5 342.6,913.7 343.4,913.7 343.7,699.2 344.1,683.2 344.7,676.2 345.6,672.4 346.8,670.4 348.4,669.4 349.9,669.3 351.3,668.5 352.7,669.3 354.1,669.6 355.6,669.6 357,669 358.4,669 359.8,669.3 361.3,669.6 362.7,668.9 364.1,669.7 365.6,669.8 367,669.9 368.4,668.9 369.8,670.1 371.3,669.1 372.7,669.4 374.1,669.8 375.5,670.2 377,669.5 378.4,670.2 379.8,669.8 381.2,669.5 382.7,670 383,877 383.5,887.9 384.3,892 385.1,895.3 385.9,898 386.7,900.2 387.5,902 388.3,903.4 389.1,904.7 389.9,905.8 390.7,906.7 391.5,907.5 392.3,908.2 393.1,908.8 395.1,910 397.1,911 399.1,911.8 401.1,912.5 403.1,913.1 405.1,913.5 407.1,913.9 409.1,914.3 411.1,914.6 413.1,914.8 415.1,915 417.1,915.2 417.9,915.2 418.2,704 418.6,688 419.2,681 420.1,677.2 421.3,675.2 422.9,674.2 424.3,673.4 425.8,673.3 427.2,673.3 428.6,673.4 430,674.1 431.5,674.6 432.9,673.6 434.3,673.5 435.7,674.7 437.2,674.2 438.6,674.1 440,673.9 441.4,674.4 442.9,674.7 444.3,674.3 445.7,674.3 447.1,673.9 448.6,674.9 450,673.9 451.4,674.5 452.9,674.9 454.3,674.1 455.7,674.8 457.1,674.8 457.4,877 457.9,889.9 458.7,894 459.5,897.3 460.3,900 461.1,902.2 461.9,904 462.7,905.4 463.5,906.7 464.3,907.8 465.1,908.7 465.9,909.5 466.7,910.2 467.5,910.8 469.5,912 471.5,913 473.5,913.8 475.5,914.5 477.5,915.1 479.5,915.5 481.5,915.9 483.5,916.3 485.5,916.6 487.5,916.8 489.5,917 491.5,917.2 492.4,917.2 492.7,708.8 493.1,692.8 493.7,685.8 494.6,682 495.8,680 497.4,679 498.8,678.9 500.2,678.6 501.6,678.9 503.1,678.2 504.5,678.6 505.9,678.3 507.4,679.2 508.8,678.6 510.2,678.9 511.6,679.6 513.1,679.4 514.5,679.6 515.9,679 517.3,679.1 518.8,679.4 520.2,679.1 521.6,678.9 523,679.1 524.5,678.8 525.9,679.1 527.3,679.9 528.7,679.9 530.2,679.5 531.6,679.6 531.9,877 532.4,891.2 533.2,895.3 534,898.6 534.8,901.3 535.6,903.5 536.4,905.3 537.2,906.7 538,908 538.8,909.1 539.6,910 540.4,910.8 541.2,911.5 542,912.1 544,913.3 546,914.3 548,915.1 550,915.8 552,916.4 554,916.8 556,917.2 558,917.6 560,917.9 562,918.1 564,918.3 566,918.5 566.8,918.5 567.1,712 567.5,696 568.1,689 569,685.2 570.2,683.2 571.8,682.2 573.3,681.6 574.7,681.5 576.1,681.3 577.5,681.6 579,682.2 580.4,682.4 581.8,681.9 583.2,682.4 584.7,682.4 586.1,682.4 587.5,682.4 589,682.5 590.4,682.1 591.8,682.6 593.2,682.1 594.7,682.4 596.1,682.7 597.5,682.7 598.9,682.2 600.4,683 601.8,682.7 603.2,682.6 604.6,682 606.1,682.8 606.4,877 606.9,891.7 607.7,895.8 608.5,899.1 609.3,901.8 610.1,904 610.9,905.8 611.7,907.2 612.5,908.5 613.3,909.6 614.1,910.5 614.9,911.3 615.7,912 616.5,912.6 618.5,913.8 620.5,914.8 622.5,915.6 624.5,916.3 626.5,916.9 628.5,917.3 630.5,917.7 632.5,918.1 634.5,918.4 636.5,918.6 638.5,918.8 640.5,919 642.5,919.2 644.5,919.3 646.5,919.4 648.5,919.5" fill="none" stroke="#008000" stroke-width="4.3" stroke-linejoin="round" stroke-linecap="round" />
</g>
<path d="M82.2,930.9L87.4,930.9L87.4,939.6L84.8,941.8L82.2,939.6ZM156.7,930.9L161.9,930.9L161.9,939.6L159.3,941.8L156.7,939.6ZM231.1,930.9L236.3,930.9L236.3,939.6L233.7,941.8L231.1,939.6ZM305.6,930.9L310.8,930.9L310.8,939.6L308.2,941.8L305.6,939.6ZM380.1,930.9L385.3,930.9L385.3,939.6L382.7,941.8L380.1,939.6ZM454.5,930.9L459.7,930.9L459.7,939.6L457.1,941.8L454.5,939.6ZM529,930.9L534.2,930.9L534.2,939.6L531.6,941.8L529,939.6ZM603.5,930.9L608.7,930.9L608.7,939.6L606.1,941.8L603.5,939.6Z"/>
<path d="M118.8,930.9L125.2,930.9L123.6,936.8L122,937.4L120.4,936.8ZM193.3,930.9L199.7,930.9L198.1,936.8L196.5,937.4L194.9,936.8ZM267.8,930.9L274.2,930.9L272.6,936.8L271,937.4L269.4,936.8ZM342.2,930.9L348.6,930.9L347,936.8L345.4,937.4L343.8,936.8ZM416.7,930.9L423.1,930.9L421.5,936.8L419.9,937.4L418.3,936.8ZM491.2,930.9L497.6,930.9L496,936.8L494.4,937.4L492.8,936.8ZM565.6,930.9L572,930.9L570.4,936.8L568.8,937.4L567.2,936.8Z"/>
<path d="M84.8,908.8L84.8,914L76.2,914L74,911.4L76.2,908.8ZM84.8,829.6L84.8,834.8L76.2,834.8L74,832.2L76.2,829.6ZM84.8,750.5L84.8,755.7L76.2,755.7L74,753.1L76.2,750.5ZM84.8,671.3L84.8,676.5L76.2,676.5L74,673.9L76.2,671.3ZM84.8,592.2L84.8,597.4L76.2,597.4L74,594.8L76.2,592.2ZM84.8,513L84.8,518.2L76.2,518.2L74,515.6L76.2,513Z"/>
<path d="M84.8,868.6L84.8,875L78.7,873.4L78.1,871.8L78.7,870.2ZM84.8,789.5L84.8,795.9L78.7,794.3L78.1,792.7L78.7,791.1ZM84.8,710.3L84.8,716.7L78.7,715.1L78.1,713.5L78.7,711.9ZM84.8,631.1L84.8,637.5L78.7,635.9L78.1,634.3L78.7,632.7ZM84.8,552L84.8,558.4L78.7,556.8L78.1,555.2L78.7,553.6Z"/>
<text transform="translate(84.8 968.3) scale(1 1.07)" font-size="31.5" text-anchor="middle" >280</text>
<text transform="translate(159.3 968.3) scale(1 1.07)" font-size="31.5" text-anchor="middle" >320</text>
<text transform="translate(233.7 968.3) scale(1 1.07)" font-size="31.5" text-anchor="middle" >360</text>
<text transform="translate(308.2 968.3) scale(1 1.07)" font-size="31.5" text-anchor="middle" >400</text>
<text transform="translate(382.7 968.3) scale(1 1.07)" font-size="31.5" text-anchor="middle" >440</text>
<text transform="translate(457.1 968.3) scale(1 1.07)" font-size="31.5" text-anchor="middle" >480</text>
<text transform="translate(531.6 968.3) scale(1 1.07)" font-size="31.5" text-anchor="middle" >520</text>
<text transform="translate(606.1 968.3) scale(1 1.07)" font-size="31.5" text-anchor="middle" >560</text>
<text transform="translate(71.8 920.7) scale(1 1.07)" font-size="31.5" text-anchor="end" >0</text>
<text transform="translate(71.8 841.5) scale(1 1.07)" font-size="31.5" text-anchor="end" >4</text>
<text transform="translate(71.8 762.4) scale(1 1.07)" font-size="31.5" text-anchor="end" >8</text>
<text transform="translate(71.8 683.2) scale(1 1.07)" font-size="31.5" text-anchor="end" >12</text>
<text transform="translate(71.8 604.1) scale(1 1.07)" font-size="31.5" text-anchor="end" >16</text>
<text transform="translate(71.8 524.9) scale(1 1.07)" font-size="31.5" text-anchor="end" >20</text>
<text transform="translate(364.5 998.9)" font-size="31" text-anchor="middle" textLength="232.5" lengthAdjust="spacingAndGlyphs" >Irradition time (s)</text>
<text transform="translate(24.5 721.9) rotate(-90)" font-size="31.5" text-anchor="middle" textLength="410.5" lengthAdjust="spacingAndGlyphs" >Photocurrent density (mA/cm<tspan font-size="14.5" dy="-10.2">2</tspan><tspan font-size="22.5" dy="10.2">)</tspan></text>
<text x="116.8" y="554" font-size="42" text-anchor="middle" >(c)</text>
<line x1="402.5" y1="552.6" x2="457.7" y2="552.6" stroke="#000" stroke-width="4.6" stroke-linecap="round"/>
<line x1="402" y1="583.7" x2="458.2" y2="583.7" stroke="#ff0000" stroke-width="3.6" stroke-linecap="round"/>
<line x1="402" y1="614.3" x2="458.2" y2="614.3" stroke="#008000" stroke-width="3.6" stroke-linecap="round"/>
<text transform="translate(465.3 560.6) scale(1.015 1)" font-size="24.5" text-anchor="start" >ZIS</text>
<text transform="translate(465.3 591.1) scale(1.015 1)" font-size="24.5" text-anchor="start" >Sv-ZIS</text>
<text transform="translate(465.3 622.2) scale(1.015 1)" font-size="24.5" text-anchor="start" >Sv-ZIS/MoSe<tspan font-size="17.5" dy="9">2</tspan></text>
<g clip-path="url(#cd)">
<polyline points="985.3,515 955.1,550.4 917.3,604.2 887,651.2 864.6,691.5 846.8,727.3 832.7,757.1 821.7,782.3 813.3,804.7 806,823.5 799.5,839.1 794.3,852.1 789.7,863.6 785.8,873.4 782.6,881.9 779.9,889.4 777.6,896.3 775.7,902.4 774.2,907.7 773.1,912.2 772.3,916 771.8,919.2 771.5,921.8" fill="none" stroke="#000" stroke-width="4.4" stroke-linejoin="round" stroke-linecap="round" />
<circle cx="771.5" cy="921.8" r="8.5" fill="#000"/><circle cx="771.5" cy="921.8" r="8.5" fill="url(#hk)"/><circle cx="771.8" cy="919.2" r="8.5" fill="#000"/><circle cx="771.8" cy="919.2" r="8.5" fill="url(#hk)"/><circle cx="772.3" cy="916" r="8.5" fill="#000"/><circle cx="772.3" cy="916" r="8.5" fill="url(#hk)"/><circle cx="773.1" cy="912.2" r="8.5" fill="#000"/><circle cx="773.1" cy="912.2" r="8.5" fill="url(#hk)"/><circle cx="774.2" cy="907.7" r="8.5" fill="#000"/><circle cx="774.2" cy="907.7" r="8.5" fill="url(#hk)"/><circle cx="775.7" cy="902.4" r="8.5" fill="#000"/><circle cx="775.7" cy="902.4" r="8.5" fill="url(#hk)"/><circle cx="777.6" cy="896.3" r="8.5" fill="#000"/><circle cx="777.6" cy="896.3" r="8.5" fill="url(#hk)"/><circle cx="779.9" cy="889.4" r="8.5" fill="#000"/><circle cx="779.9" cy="889.4" r="8.5" fill="url(#hk)"/><circle cx="782.6" cy="881.9" r="8.5" fill="#000"/><circle cx="782.6" cy="881.9" r="8.5" fill="url(#hk)"/><circle cx="785.8" cy="873.4" r="8.5" fill="#000"/><circle cx="785.8" cy="873.4" r="8.5" fill="url(#hk)"/><circle cx="789.7" cy="863.6" r="8.5" fill="#000"/><circle cx="789.7" cy="863.6" r="8.5" fill="url(#hk)"/><circle cx="794.3" cy="852.1" r="8.5" fill="#000"/><circle cx="794.3" cy="852.1" r="8.5" fill="url(#hk)"/><circle cx="799.5" cy="839.1" r="8.5" fill="#000"/><circle cx="799.5" cy="839.1" r="8.5" fill="url(#hk)"/><circle cx="806" cy="823.5" r="8.5" fill="#000"/><circle cx="806" cy="823.5" r="8.5" fill="url(#hk)"/><circle cx="813.3" cy="804.7" r="8.5" fill="#000"/><circle cx="813.3" cy="804.7" r="8.5" fill="url(#hk)"/><circle cx="821.7" cy="782.3" r="8.5" fill="#000"/><circle cx="821.7" cy="782.3" r="8.5" fill="url(#hk)"/><circle cx="832.7" cy="757.1" r="8.5" fill="#000"/><circle cx="832.7" cy="757.1" r="8.5" fill="url(#hk)"/><circle cx="846.8" cy="727.3" r="8.5" fill="#000"/><circle cx="846.8" cy="727.3" r="8.5" fill="url(#hk)"/><circle cx="864.6" cy="691.5" r="8.5" fill="#000"/><circle cx="864.6" cy="691.5" r="8.5" fill="url(#hk)"/><circle cx="887" cy="651.2" r="8.5" fill="#000"/><circle cx="887" cy="651.2" r="8.5" fill="url(#hk)"/><circle cx="917.3" cy="604.2" r="8.5" fill="#000"/><circle cx="917.3" cy="604.2" r="8.5" fill="url(#hk)"/><circle cx="955.1" cy="550.4" r="8.5" fill="#000"/><circle cx="955.1" cy="550.4" r="8.5" fill="url(#hk)"/>
<polyline points="1045.2,515 1006.2,557.1 966.6,604.9 935.7,647.3 909,685.4 887.8,717.8 870.3,746.6 855.6,772 843,792.6 832.3,810.9 823.1,826.5 815.1,839.5 808.2,851 802.3,861.3 796.8,870.4 792.2,878.4 789,886.2 787,893.2 785.8,899.7 785,905.7 784.5,911.2 784.1,916.2 783.8,920.7 793.5,897 792,910.5 781.5,925.5" fill="none" stroke="#ff0000" stroke-width="4.4" stroke-linejoin="round" stroke-linecap="round" />
<circle cx="783.8" cy="920.7" r="8.5" fill="#ff0000"/><circle cx="783.8" cy="920.7" r="8.5" fill="url(#hr)"/><circle cx="784.1" cy="916.2" r="8.5" fill="#ff0000"/><circle cx="784.1" cy="916.2" r="8.5" fill="url(#hr)"/><circle cx="784.5" cy="911.2" r="8.5" fill="#ff0000"/><circle cx="784.5" cy="911.2" r="8.5" fill="url(#hr)"/><circle cx="785" cy="905.7" r="8.5" fill="#ff0000"/><circle cx="785" cy="905.7" r="8.5" fill="url(#hr)"/><circle cx="785.8" cy="899.7" r="8.5" fill="#ff0000"/><circle cx="785.8" cy="899.7" r="8.5" fill="url(#hr)"/><circle cx="787" cy="893.2" r="8.5" fill="#ff0000"/><circle cx="787" cy="893.2" r="8.5" fill="url(#hr)"/><circle cx="789" cy="886.2" r="8.5" fill="#ff0000"/><circle cx="789" cy="886.2" r="8.5" fill="url(#hr)"/><circle cx="792.2" cy="878.4" r="8.5" fill="#ff0000"/><circle cx="792.2" cy="878.4" r="8.5" fill="url(#hr)"/><circle cx="796.8" cy="870.4" r="8.5" fill="#ff0000"/><circle cx="796.8" cy="870.4" r="8.5" fill="url(#hr)"/><circle cx="802.3" cy="861.3" r="8.5" fill="#ff0000"/><circle cx="802.3" cy="861.3" r="8.5" fill="url(#hr)"/><circle cx="808.2" cy="851" r="8.5" fill="#ff0000"/><circle cx="808.2" cy="851" r="8.5" fill="url(#hr)"/><circle cx="815.1" cy="839.5" r="8.5" fill="#ff0000"/><circle cx="815.1" cy="839.5" r="8.5" fill="url(#hr)"/><circle cx="823.1" cy="826.5" r="8.5" fill="#ff0000"/><circle cx="823.1" cy="826.5" r="8.5" fill="url(#hr)"/><circle cx="832.3" cy="810.9" r="8.5" fill="#ff0000"/><circle cx="832.3" cy="810.9" r="8.5" fill="url(#hr)"/><circle cx="843" cy="792.6" r="8.5" fill="#ff0000"/><circle cx="843" cy="792.6" r="8.5" fill="url(#hr)"/><circle cx="855.6" cy="772" r="8.5" fill="#ff0000"/><circle cx="855.6" cy="772" r="8.5" fill="url(#hr)"/><circle cx="870.3" cy="746.6" r="8.5" fill="#ff0000"/><circle cx="870.3" cy="746.6" r="8.5" fill="url(#hr)"/><circle cx="887.8" cy="717.8" r="8.5" fill="#ff0000"/><circle cx="887.8" cy="717.8" r="8.5" fill="url(#hr)"/><circle cx="909" cy="685.4" r="8.5" fill="#ff0000"/><circle cx="909" cy="685.4" r="8.5" fill="url(#hr)"/><circle cx="935.7" cy="647.3" r="8.5" fill="#ff0000"/><circle cx="935.7" cy="647.3" r="8.5" fill="url(#hr)"/><circle cx="966.6" cy="604.9" r="8.5" fill="#ff0000"/><circle cx="966.6" cy="604.9" r="8.5" fill="url(#hr)"/><circle cx="1006.2" cy="557.1" r="8.5" fill="#ff0000"/><circle cx="1006.2" cy="557.1" r="8.5" fill="url(#hr)"/>
<polyline points="1318.4,696.5 1270.6,693.3 1222.9,693.3 1175.5,697.1 1128,703.5 1083.4,712.4 1043.4,723.6 1005.7,735.9 973.8,750.6 944.9,764.4 918.4,779.4 897.8,793.2 878.9,806 862.4,818.8 848.8,830.4 836.2,840.7 826.6,850.5 817.4,859 809.8,866.5 803,873.9 797.3,880.3 792.3,886.2 788,891.7 784.3,896.7 781.1,901.2 778.4,905.2 776.1,908.8 774.2,912 772.7,914.8 771.5,917.2" fill="none" stroke="#008000" stroke-width="4.4" stroke-linejoin="round" stroke-linecap="round" />
<circle cx="771.5" cy="917.2" r="8.5" fill="#008000"/><circle cx="771.5" cy="917.2" r="8.5" fill="url(#hg)"/><circle cx="772.7" cy="914.8" r="8.5" fill="#008000"/><circle cx="772.7" cy="914.8" r="8.5" fill="url(#hg)"/><circle cx="774.2" cy="912" r="8.5" fill="#008000"/><circle cx="774.2" cy="912" r="8.5" fill="url(#hg)"/><circle cx="776.1" cy="908.8" r="8.5" fill="#008000"/><circle cx="776.1" cy="908.8" r="8.5" fill="url(#hg)"/><circle cx="778.4" cy="905.2" r="8.5" fill="#008000"/><circle cx="778.4" cy="905.2" r="8.5" fill="url(#hg)"/><circle cx="781.1" cy="901.2" r="8.5" fill="#008000"/><circle cx="781.1" cy="901.2" r="8.5" fill="url(#hg)"/><circle cx="784.3" cy="896.7" r="8.5" fill="#008000"/><circle cx="784.3" cy="896.7" r="8.5" fill="url(#hg)"/><circle cx="788" cy="891.7" r="8.5" fill="#008000"/><circle cx="788" cy="891.7" r="8.5" fill="url(#hg)"/><circle cx="792.3" cy="886.2" r="8.5" fill="#008000"/><circle cx="792.3" cy="886.2" r="8.5" fill="url(#hg)"/><circle cx="797.3" cy="880.3" r="8.5" fill="#008000"/><circle cx="797.3" cy="880.3" r="8.5" fill="url(#hg)"/><circle cx="803" cy="873.9" r="8.5" fill="#008000"/><circle cx="803" cy="873.9" r="8.5" fill="url(#hg)"/><circle cx="809.8" cy="866.5" r="8.5" fill="#008000"/><circle cx="809.8" cy="866.5" r="8.5" fill="url(#hg)"/><circle cx="817.4" cy="859" r="8.5" fill="#008000"/><circle cx="817.4" cy="859" r="8.5" fill="url(#hg)"/><circle cx="826.6" cy="850.5" r="8.5" fill="#008000"/><circle cx="826.6" cy="850.5" r="8.5" fill="url(#hg)"/><circle cx="836.2" cy="840.7" r="8.5" fill="#008000"/><circle cx="836.2" cy="840.7" r="8.5" fill="url(#hg)"/><circle cx="848.8" cy="830.4" r="8.5" fill="#008000"/><circle cx="848.8" cy="830.4" r="8.5" fill="url(#hg)"/><circle cx="862.4" cy="818.8" r="8.5" fill="#008000"/><circle cx="862.4" cy="818.8" r="8.5" fill="url(#hg)"/><circle cx="878.9" cy="806" r="8.5" fill="#008000"/><circle cx="878.9" cy="806" r="8.5" fill="url(#hg)"/><circle cx="897.8" cy="793.2" r="8.5" fill="#008000"/><circle cx="897.8" cy="793.2" r="8.5" fill="url(#hg)"/><circle cx="918.4" cy="779.4" r="8.5" fill="#008000"/><circle cx="918.4" cy="779.4" r="8.5" fill="url(#hg)"/><circle cx="944.9" cy="764.4" r="8.5" fill="#008000"/><circle cx="944.9" cy="764.4" r="8.5" fill="url(#hg)"/><circle cx="973.8" cy="750.6" r="8.5" fill="#008000"/><circle cx="973.8" cy="750.6" r="8.5" fill="url(#hg)"/><circle cx="1005.7" cy="735.9" r="8.5" fill="#008000"/><circle cx="1005.7" cy="735.9" r="8.5" fill="url(#hg)"/><circle cx="1043.4" cy="723.6" r="8.5" fill="#008000"/><circle cx="1043.4" cy="723.6" r="8.5" fill="url(#hg)"/><circle cx="1083.4" cy="712.4" r="8.5" fill="#008000"/><circle cx="1083.4" cy="712.4" r="8.5" fill="url(#hg)"/><circle cx="1128" cy="703.5" r="8.5" fill="#008000"/><circle cx="1128" cy="703.5" r="8.5" fill="url(#hg)"/><circle cx="1175.5" cy="697.1" r="8.5" fill="#008000"/><circle cx="1175.5" cy="697.1" r="8.5" fill="url(#hg)"/><circle cx="1222.9" cy="693.3" r="8.5" fill="#008000"/><circle cx="1222.9" cy="693.3" r="8.5" fill="url(#hg)"/><circle cx="1270.6" cy="693.3" r="8.5" fill="#008000"/><circle cx="1270.6" cy="693.3" r="8.5" fill="url(#hg)"/><circle cx="1318.4" cy="696.5" r="8.5" fill="#008000"/><circle cx="1318.4" cy="696.5" r="8.5" fill="url(#hg)"/>
<polyline points="1129.9,888.8 1122.5,882.3 1116,877.7 1109.5,873 1102.1,868.4 1093.8,863.8 1083.6,858.2 1071.2,853.2 1058.2,848 1042.9,843.4 1027.1,839.7 1010.1,836 991,833.6 972.5,832.9 954,832.9 935.3,834.3 917,837.4 900.8,841.1 884.3,844.9 869.8,850.3 856.3,855.6 843.7,860.1 833.4,865.2 823.6,871.1 815.6,877.3 808.2,883 801.8,888.7 796.5,894.2 791.7,899.5 787.3,904.4 783.4,908.8 780,912.7 777.1,916.1 774.7,919 772.8,921.4 771.4,923.3" fill="none" stroke="#ff8000" stroke-width="4.4" stroke-linejoin="round" stroke-linecap="round" />
<path fill="#ff8000" d="M767,911.8L791.8,887.9L812.7,871.2L813.9,889.1L791.8,910.6L780.5,925.5L767,925.5Z"/>
<circle cx="771.4" cy="923.3" r="8.5" fill="#ff8000"/><circle cx="771.4" cy="923.3" r="8.5" fill="url(#ho)"/><circle cx="772.8" cy="921.4" r="8.5" fill="#ff8000"/><circle cx="772.8" cy="921.4" r="8.5" fill="url(#ho)"/><circle cx="774.7" cy="919" r="8.5" fill="#ff8000"/><circle cx="774.7" cy="919" r="8.5" fill="url(#ho)"/><circle cx="777.1" cy="916.1" r="8.5" fill="#ff8000"/><circle cx="777.1" cy="916.1" r="8.5" fill="url(#ho)"/><circle cx="780" cy="912.7" r="8.5" fill="#ff8000"/><circle cx="780" cy="912.7" r="8.5" fill="url(#ho)"/><circle cx="783.4" cy="908.8" r="8.5" fill="#ff8000"/><circle cx="783.4" cy="908.8" r="8.5" fill="url(#ho)"/><circle cx="787.3" cy="904.4" r="8.5" fill="#ff8000"/><circle cx="787.3" cy="904.4" r="8.5" fill="url(#ho)"/><circle cx="791.7" cy="899.5" r="8.5" fill="#ff8000"/><circle cx="791.7" cy="899.5" r="8.5" fill="url(#ho)"/><circle cx="796.5" cy="894.2" r="8.5" fill="#ff8000"/><circle cx="796.5" cy="894.2" r="8.5" fill="url(#ho)"/><circle cx="801.8" cy="888.7" r="8.5" fill="#ff8000"/><circle cx="801.8" cy="888.7" r="8.5" fill="url(#ho)"/><circle cx="808.2" cy="883" r="8.5" fill="#ff8000"/><circle cx="808.2" cy="883" r="8.5" fill="url(#ho)"/><circle cx="815.6" cy="877.3" r="8.5" fill="#ff8000"/><circle cx="815.6" cy="877.3" r="8.5" fill="url(#ho)"/><circle cx="823.6" cy="871.1" r="8.5" fill="#ff8000"/><circle cx="823.6" cy="871.1" r="8.5" fill="url(#ho)"/><circle cx="833.4" cy="865.2" r="8.5" fill="#ff8000"/><circle cx="833.4" cy="865.2" r="8.5" fill="url(#ho)"/><circle cx="843.7" cy="860.1" r="8.5" fill="#ff8000"/><circle cx="843.7" cy="860.1" r="8.5" fill="url(#ho)"/><circle cx="856.3" cy="855.6" r="8.5" fill="#ff8000"/><circle cx="856.3" cy="855.6" r="8.5" fill="url(#ho)"/><circle cx="869.8" cy="850.3" r="8.5" fill="#ff8000"/><circle cx="869.8" cy="850.3" r="8.5" fill="url(#ho)"/><circle cx="884.3" cy="844.9" r="8.5" fill="#ff8000"/><circle cx="884.3" cy="844.9" r="8.5" fill="url(#ho)"/><circle cx="900.8" cy="841.1" r="8.5" fill="#ff8000"/><circle cx="900.8" cy="841.1" r="8.5" fill="url(#ho)"/><circle cx="917" cy="837.4" r="8.5" fill="#ff8000"/><circle cx="917" cy="837.4" r="8.5" fill="url(#ho)"/><circle cx="935.3" cy="834.3" r="8.5" fill="#ff8000"/><circle cx="935.3" cy="834.3" r="8.5" fill="url(#ho)"/><circle cx="954" cy="832.9" r="8.5" fill="#ff8000"/><circle cx="954" cy="832.9" r="8.5" fill="url(#ho)"/><circle cx="972.5" cy="832.9" r="8.5" fill="#ff8000"/><circle cx="972.5" cy="832.9" r="8.5" fill="url(#ho)"/><circle cx="991" cy="833.6" r="8.5" fill="#ff8000"/><circle cx="991" cy="833.6" r="8.5" fill="url(#ho)"/><circle cx="1010.1" cy="836" r="8.5" fill="#ff8000"/><circle cx="1010.1" cy="836" r="8.5" fill="url(#ho)"/><circle cx="1027.1" cy="839.7" r="8.5" fill="#ff8000"/><circle cx="1027.1" cy="839.7" r="8.5" fill="url(#ho)"/><circle cx="1042.9" cy="843.4" r="8.5" fill="#ff8000"/><circle cx="1042.9" cy="843.4" r="8.5" fill="url(#ho)"/><circle cx="1058.2" cy="848" r="8.5" fill="#ff8000"/><circle cx="1058.2" cy="848" r="8.5" fill="url(#ho)"/><circle cx="1071.2" cy="853.2" r="8.5" fill="#ff8000"/><circle cx="1071.2" cy="853.2" r="8.5" fill="url(#ho)"/><circle cx="1083.6" cy="858.2" r="8.5" fill="#ff8000"/><circle cx="1083.6" cy="858.2" r="8.5" fill="url(#ho)"/><circle cx="1093.8" cy="863.8" r="8.5" fill="#ff8000"/><circle cx="1093.8" cy="863.8" r="8.5" fill="url(#ho)"/><circle cx="1102.1" cy="868.4" r="8.5" fill="#ff8000"/><circle cx="1102.1" cy="868.4" r="8.5" fill="url(#ho)"/><circle cx="1109.5" cy="873" r="8.5" fill="#ff8000"/><circle cx="1109.5" cy="873" r="8.5" fill="url(#ho)"/><circle cx="1116" cy="877.7" r="8.5" fill="#ff8000"/><circle cx="1116" cy="877.7" r="8.5" fill="url(#ho)"/><circle cx="1122.5" cy="882.3" r="8.5" fill="#ff8000"/><circle cx="1122.5" cy="882.3" r="8.5" fill="url(#ho)"/><circle cx="1129.9" cy="888.8" r="8.5" fill="#ff8000"/><circle cx="1129.9" cy="888.8" r="8.5" fill="url(#ho)"/>
</g>
<path d="M764.7,924.6L769.9,924.6L769.9,932.9L767.3,935.1L764.7,932.9ZM950,924.6L955.2,924.6L955.2,932.9L952.6,935.1L950,932.9ZM1135.3,924.6L1140.5,924.6L1140.5,932.9L1137.9,935.1L1135.3,932.9ZM1320.6,924.6L1325.8,924.6L1325.8,932.9L1323.2,935.1L1320.6,932.9Z"/>
<path d="M856.7,924.6L863.1,924.6L861.5,930.5L859.9,931.1L858.3,930.5ZM1042,924.6L1048.5,924.6L1046.8,930.5L1045.2,931.1L1043.7,930.5ZM1227.4,924.6L1233.8,924.6L1232.2,930.5L1230.6,931.1L1229,930.5Z"/>
<path d="M767.3,922L767.3,927.2L758.7,927.2L756.5,924.6L758.7,922ZM767.3,785.5L767.3,790.7L758.7,790.7L756.5,788.1L758.7,785.5ZM767.3,648.9L767.3,654.1L758.7,654.1L756.5,651.5L758.7,648.9ZM767.3,512.4L767.3,517.6L758.7,517.6L756.5,515L758.7,512.4Z"/>
<path d="M767.3,853.1L767.3,859.5L760.9,857.9L760.3,856.3L760.9,854.7ZM767.3,716.6L767.3,723L760.9,721.4L760.3,719.8L760.9,718.2ZM767.3,580.1L767.3,586.5L760.9,584.9L760.3,583.3L760.9,581.7Z"/>
<text transform="translate(767.3 962.6) scale(1 1.07)" font-size="31.5" text-anchor="middle" >0</text>
<text transform="translate(753.8 933.1) scale(1 1.07)" font-size="31.5" text-anchor="end" >0</text>
<text transform="translate(952.6 962.6) scale(1 1.07)" font-size="31.5" text-anchor="middle" >200</text>
<text transform="translate(753.8 796.6) scale(1 1.07)" font-size="31.5" text-anchor="end" >200</text>
<text transform="translate(1137.9 962.6) scale(1 1.07)" font-size="31.5" text-anchor="middle" >400</text>
<text transform="translate(753.8 660) scale(1 1.07)" font-size="31.5" text-anchor="end" >400</text>
<text transform="translate(1323.2 962.6) scale(1 1.07)" font-size="31.5" text-anchor="middle" >600</text>
<text transform="translate(753.8 523.5) scale(1 1.07)" font-size="31.5" text-anchor="end" >600</text>
<text transform="translate(1039.2 995.4)" font-size="31.5" text-anchor="middle" textLength="108.5" lengthAdjust="spacingAndGlyphs" >Z'(ohm)</text>
<text transform="translate(682 720.1) rotate(-90)" font-size="31.5" text-anchor="middle" textLength="124" lengthAdjust="spacingAndGlyphs" >-Z''(ohm)</text>
<text x="795.9" y="554" font-size="42" text-anchor="middle" >(d)</text>
<line x1="1084.8" y1="555.9" x2="1127.5" y2="555.9" stroke="#000" stroke-width="3.6" stroke-linecap="round"/>
<circle cx="1106.1" cy="555.9" r="8.5" fill="#000"/><circle cx="1106.1" cy="555.9" r="8.5" fill="url(#hk)"/>
<line x1="1084.8" y1="590.7" x2="1127.5" y2="590.7" stroke="#ff0000" stroke-width="3.6" stroke-linecap="round"/>
<circle cx="1106.1" cy="590.7" r="8.5" fill="#ff0000"/><circle cx="1106.1" cy="590.7" r="8.5" fill="url(#hr)"/>
<line x1="1084.8" y1="625.4" x2="1127.5" y2="625.4" stroke="#008000" stroke-width="3.6" stroke-linecap="round"/>
<circle cx="1106.1" cy="625.4" r="8.5" fill="#008000"/><circle cx="1106.1" cy="625.4" r="8.5" fill="url(#hg)"/>
<line x1="1084.8" y1="665.2" x2="1127.5" y2="665.2" stroke="#ff8000" stroke-width="3.6" stroke-linecap="round"/>
<circle cx="1106.1" cy="665.2" r="8.5" fill="#ff8000"/><circle cx="1106.1" cy="665.2" r="8.5" fill="url(#ho)"/>
<text transform="translate(1135.5 563) scale(1.01 1)" font-size="27" text-anchor="start" >ZIS</text>
<text transform="translate(1135.5 596.7) scale(1.01 1)" font-size="27" text-anchor="start" >Sv-ZIS</text>
<text transform="translate(1135.5 631.9) scale(1.01 1)" font-size="27" text-anchor="start" >Sv-ZIS/MoSe<tspan font-size="19" dy="7">2</tspan></text>
<text transform="translate(1135.5 670.7) scale(1.01 1)" font-size="27" text-anchor="start" >MoSe<tspan font-size="19" dy="7">2</tspan></text>
<g fill="none" stroke="#000" stroke-width="2.6" stroke-linejoin="miter">
<polyline points="988.8,793.4 1049.9,793.4 1058.7,801 1073.8,786.4 1088.3,801 1104,786.4 1111,793.4 1186.7,793.4 1194.7,801.3 1210,786.7 1226,801.3 1240.7,786.7 1247.3,793.4 1310,793.4"/>
<polyline points="1164,793 1164,838.7 1210.7,838.7"/>
<polyline points="1202.7,832.4 1210.7,838.7 1202.7,847"/>
<polyline points="1218,832.4 1226,838.7 1218,847"/>
<polyline points="1226,838.7 1270.7,838.7 1270.7,793.4"/>
</g>
<ellipse cx="1164" cy="792.5" rx="7" ry="7.6" fill="#000"/>
<text x="1080.7" y="779.5" font-size="15" text-anchor="middle" font-weight="bold">Rs</text>
<text x="1217.6" y="779.3" font-size="15" text-anchor="middle" font-weight="bold">Rct1</text>
<text x="1217.7" y="825.3" font-size="15" text-anchor="middle" font-weight="bold">CPE1</text>
</svg>
</body></html>
